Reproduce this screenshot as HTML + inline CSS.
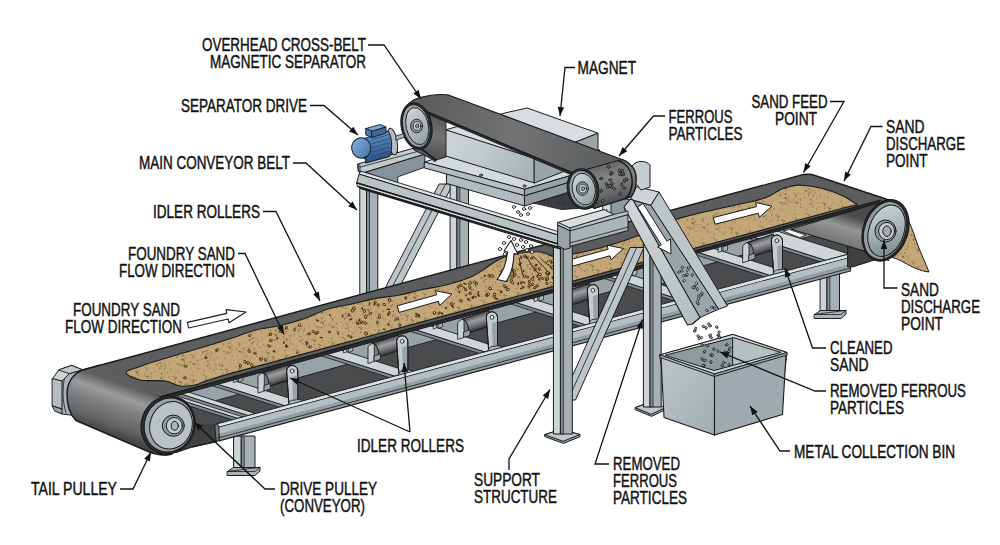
<!DOCTYPE html>
<html><head><meta charset="utf-8"><title>Overhead Cross-Belt Magnetic Separator</title>
<style>
html,body{margin:0;padding:0;background:#fff;}
svg{display:block}
text{font-family:"Liberation Sans",sans-serif;font-size:18.3px;fill:#111;stroke:#111;stroke-width:.45px}
</style></head><body>
<svg width="1000" height="545" viewBox="0 0 1000 545">
<rect width="1000" height="545" fill="#fff"/>
<defs><clipPath id="cUnder"><polygon points="160.0,397.0 880.0,200.5 880.0,300.0 860.0,300.0 160.0,470.0"/></clipPath><linearGradient id="gRoll" gradientUnits="userSpaceOnUse" x1="0" y1="-7.5" x2="0" y2="7.5"><stop offset="0" stop-color="#4a4b4d"/><stop offset="0.35" stop-color="#9d9fa1"/><stop offset="0.7" stop-color="#6a6c6f"/><stop offset="1" stop-color="#333436"/></linearGradient><linearGradient id="gStr" gradientUnits="userSpaceOnUse" x1="0" y1="0" x2="0" y2="1"><stop offset="0" stop-color="#c9d1d3"/><stop offset="0.55" stop-color="#aeb8bb"/><stop offset="1" stop-color="#8d999d"/></linearGradient><linearGradient id="gTail" gradientUnits="userSpaceOnUse" x1="122" y1="384" x2="105" y2="432"><stop offset="0" stop-color="#5e5f61"/><stop offset="0.24" stop-color="#999b9d"/><stop offset="0.5" stop-color="#7c7d7f"/><stop offset="0.8" stop-color="#646567"/><stop offset="1" stop-color="#454648"/></linearGradient><pattern id="pSpeck" width="48" height="48" patternUnits="userSpaceOnUse" patternTransform="rotate(-15)"><rect width="48" height="48" fill="#c3a778"/><circle cx="11.4" cy="26.1" r="0.50" fill="#4a3418"/><circle cx="30.0" cy="3.1" r="0.35" fill="#4a3418"/><circle cx="12.4" cy="11.2" r="0.55" fill="#4a3418"/><circle cx="19.1" cy="41.3" r="0.40" fill="#7a5a30"/><circle cx="41.7" cy="25.1" r="0.35" fill="#5b3f1f"/><circle cx="7.7" cy="46.0" r="0.35" fill="#8a6a3c"/><circle cx="37.4" cy="39.5" r="0.50" fill="#4a3418"/><circle cx="28.5" cy="44.2" r="0.55" fill="#4a3418"/><circle cx="19.0" cy="38.4" r="0.55" fill="#7a5a30"/><circle cx="42.2" cy="4.7" r="0.40" fill="#4a3418"/><circle cx="10.4" cy="46.3" r="0.55" fill="#8a6a3c"/><circle cx="20.2" cy="40.0" r="0.65" fill="#8a6a3c"/><circle cx="25.6" cy="19.6" r="0.40" fill="#8a6a3c"/><circle cx="32.7" cy="44.6" r="0.50" fill="#7a5a30"/><circle cx="33.5" cy="15.7" r="0.65" fill="#5b3f1f"/><circle cx="34.3" cy="10.1" r="0.65" fill="#8a6a3c"/><circle cx="13.7" cy="3.0" r="0.55" fill="#5b3f1f"/><circle cx="16.5" cy="3.2" r="0.40" fill="#5b3f1f"/><circle cx="14.1" cy="36.9" r="0.35" fill="#5b3f1f"/><circle cx="29.0" cy="36.6" r="0.55" fill="#8a6a3c"/><circle cx="26.4" cy="44.3" r="0.50" fill="#7a5a30"/><circle cx="47.9" cy="14.9" r="0.35" fill="#5b3f1f"/><circle cx="28.8" cy="1.5" r="0.40" fill="#4a3418"/><circle cx="14.0" cy="12.6" r="0.35" fill="#8a6a3c"/><circle cx="15.1" cy="46.0" r="0.55" fill="#4a3418"/><circle cx="22.1" cy="25.0" r="0.65" fill="#5b3f1f"/><circle cx="29.8" cy="45.1" r="0.65" fill="#8a6a3c"/><circle cx="20.7" cy="34.6" r="0.40" fill="#8a6a3c"/><circle cx="21.0" cy="12.4" r="0.50" fill="#8a6a3c"/><circle cx="0.5" cy="19.9" r="0.65" fill="#8a6a3c"/><circle cx="1.0" cy="29.6" r="0.40" fill="#5b3f1f"/><circle cx="30.4" cy="16.0" r="0.50" fill="#8a6a3c"/><circle cx="29.2" cy="13.4" r="0.55" fill="#5b3f1f"/><circle cx="28.3" cy="45.8" r="0.35" fill="#8a6a3c"/><circle cx="12.1" cy="21.9" r="0.65" fill="#8a6a3c"/><circle cx="8.5" cy="8.9" r="0.50" fill="#8a6a3c"/><circle cx="14.4" cy="18.1" r="0.35" fill="#7a5a30"/><circle cx="14.9" cy="10.7" r="0.50" fill="#7a5a30"/><circle cx="15.7" cy="32.5" r="0.35" fill="#5b3f1f"/><circle cx="28.8" cy="45.6" r="0.40" fill="#4a3418"/><circle cx="38.9" cy="46.1" r="0.35" fill="#8a6a3c"/><circle cx="35.6" cy="10.5" r="0.65" fill="#4a3418"/><circle cx="13.0" cy="37.8" r="0.35" fill="#7a5a30"/><circle cx="15.1" cy="40.1" r="0.65" fill="#7a5a30"/><circle cx="41.5" cy="16.3" r="0.35" fill="#8a6a3c"/><circle cx="28.3" cy="20.2" r="0.65" fill="#8a6a3c"/><circle cx="22.3" cy="30.4" r="0.50" fill="#4a3418"/><circle cx="27.3" cy="1.7" r="0.55" fill="#7a5a30"/><circle cx="9.6" cy="22.9" r="0.65" fill="#4a3418"/><circle cx="26.8" cy="47.3" r="0.40" fill="#5b3f1f"/><circle cx="35.8" cy="40.2" r="0.65" fill="#8a6a3c"/><circle cx="26.1" cy="42.7" r="0.35" fill="#8a6a3c"/><circle cx="5.8" cy="11.7" r="0.35" fill="#7a5a30"/><circle cx="43.0" cy="43.2" r="0.65" fill="#5b3f1f"/><circle cx="0.6" cy="35.8" r="0.40" fill="#8a6a3c"/><circle cx="11.5" cy="1.0" r="0.65" fill="#4a3418"/><circle cx="2.6" cy="43.8" r="0.35" fill="#8a6a3c"/><circle cx="6.0" cy="46.7" r="0.65" fill="#4a3418"/><circle cx="39.0" cy="2.9" r="0.40" fill="#7a5a30"/><circle cx="5.9" cy="42.6" r="0.35" fill="#7a5a30"/><circle cx="11.5" cy="13.1" r="0.40" fill="#5b3f1f"/><circle cx="23.4" cy="27.4" r="0.55" fill="#5b3f1f"/><circle cx="36.3" cy="11.9" r="0.65" fill="#4a3418"/><circle cx="2.4" cy="15.5" r="0.35" fill="#5b3f1f"/><circle cx="37.2" cy="2.2" r="0.35" fill="#5b3f1f"/><circle cx="23.2" cy="1.6" r="0.35" fill="#4a3418"/><circle cx="15.2" cy="15.1" r="0.50" fill="#4a3418"/><circle cx="31.1" cy="28.2" r="0.50" fill="#8a6a3c"/><circle cx="9.2" cy="15.8" r="0.35" fill="#7a5a30"/><circle cx="26.7" cy="34.4" r="0.55" fill="#5b3f1f"/><circle cx="27.2" cy="2.1" r="0.55" fill="#4a3418"/><circle cx="30.6" cy="2.1" r="0.55" fill="#5b3f1f"/><circle cx="17.9" cy="23.8" r="0.50" fill="#4a3418"/><circle cx="45.6" cy="20.1" r="0.35" fill="#7a5a30"/><circle cx="10.5" cy="13.0" r="0.65" fill="#5b3f1f"/><circle cx="38.6" cy="10.8" r="0.40" fill="#5b3f1f"/><circle cx="45.0" cy="18.0" r="0.65" fill="#8a6a3c"/><circle cx="5.8" cy="33.1" r="0.65" fill="#4a3418"/><circle cx="32.0" cy="35.2" r="0.65" fill="#5b3f1f"/><circle cx="39.0" cy="34.4" r="0.55" fill="#7a5a30"/><circle cx="11.3" cy="18.7" r="0.65" fill="#5b3f1f"/><circle cx="27.1" cy="31.6" r="0.55" fill="#7a5a30"/><circle cx="39.3" cy="16.4" r="0.35" fill="#5b3f1f"/><circle cx="40.5" cy="32.3" r="0.50" fill="#8a6a3c"/><circle cx="38.3" cy="1.7" r="0.65" fill="#7a5a30"/><circle cx="5.1" cy="36.0" r="0.65" fill="#5b3f1f"/><circle cx="26.4" cy="41.7" r="0.40" fill="#5b3f1f"/><circle cx="11.6" cy="8.6" r="0.40" fill="#4a3418"/><circle cx="29.6" cy="36.2" r="0.55" fill="#8a6a3c"/><circle cx="17.6" cy="19.0" r="0.50" fill="#4a3418"/><circle cx="46.4" cy="18.0" r="0.40" fill="#4a3418"/><circle cx="40.5" cy="46.4" r="0.55" fill="#4a3418"/><circle cx="7.5" cy="19.3" r="0.40" fill="#7a5a30"/><circle cx="4.6" cy="35.9" r="0.65" fill="#4a3418"/><circle cx="28.2" cy="41.2" r="0.40" fill="#8a6a3c"/><circle cx="36.1" cy="7.0" r="0.65" fill="#8a6a3c"/><circle cx="44.9" cy="40.9" r="0.65" fill="#8a6a3c"/><circle cx="32.2" cy="41.1" r="0.65" fill="#8a6a3c"/><circle cx="42.7" cy="14.7" r="0.50" fill="#4a3418"/><circle cx="38.6" cy="9.6" r="0.65" fill="#8a6a3c"/><circle cx="11.5" cy="23.2" r="0.40" fill="#4a3418"/><circle cx="47.6" cy="23.0" r="0.65" fill="#7a5a30"/><circle cx="22.5" cy="40.1" r="0.65" fill="#5b3f1f"/><circle cx="23.1" cy="34.6" r="0.55" fill="#5b3f1f"/><circle cx="22.4" cy="11.0" r="0.40" fill="#5b3f1f"/><circle cx="46.0" cy="41.0" r="0.40" fill="#7a5a30"/><circle cx="37.2" cy="6.6" r="0.65" fill="#5b3f1f"/><circle cx="43.2" cy="12.2" r="0.35" fill="#8a6a3c"/><circle cx="8.8" cy="4.4" r="0.35" fill="#5b3f1f"/><circle cx="4.4" cy="40.0" r="0.50" fill="#5b3f1f"/><circle cx="17.1" cy="27.9" r="0.50" fill="#5b3f1f"/><circle cx="1.4" cy="15.9" r="0.55" fill="#4a3418"/><circle cx="3.7" cy="30.9" r="0.55" fill="#4a3418"/><circle cx="6.0" cy="15.3" r="0.50" fill="#5b3f1f"/><circle cx="31.9" cy="5.4" r="0.65" fill="#8a6a3c"/><circle cx="4.7" cy="45.2" r="0.50" fill="#8a6a3c"/><circle cx="36.4" cy="14.2" r="0.50" fill="#5b3f1f"/><circle cx="36.2" cy="46.1" r="0.65" fill="#5b3f1f"/><circle cx="32.0" cy="24.4" r="0.35" fill="#8a6a3c"/><circle cx="32.6" cy="27.2" r="0.40" fill="#7a5a30"/><circle cx="8.6" cy="42.7" r="0.55" fill="#5b3f1f"/><circle cx="5.2" cy="26.9" r="0.50" fill="#4a3418"/><circle cx="26.6" cy="31.1" r="0.55" fill="#4a3418"/><circle cx="15.0" cy="8.5" r="0.35" fill="#5b3f1f"/><circle cx="34.4" cy="36.2" r="0.65" fill="#4a3418"/><circle cx="17.2" cy="12.8" r="0.55" fill="#5b3f1f"/><circle cx="41.9" cy="2.0" r="0.65" fill="#8a6a3c"/><circle cx="11.9" cy="36.9" r="0.50" fill="#8a6a3c"/><circle cx="45.4" cy="21.5" r="0.35" fill="#8a6a3c"/><circle cx="23.9" cy="47.8" r="0.40" fill="#8a6a3c"/><circle cx="28.3" cy="32.7" r="0.65" fill="#5b3f1f"/><circle cx="8.9" cy="9.1" r="0.55" fill="#4a3418"/><circle cx="39.2" cy="35.9" r="0.65" fill="#7a5a30"/><circle cx="41.3" cy="38.3" r="0.65" fill="#7a5a30"/><circle cx="27.3" cy="9.7" r="0.50" fill="#8a6a3c"/><circle cx="37.5" cy="1.4" r="0.55" fill="#4a3418"/><circle cx="45.6" cy="18.4" r="0.65" fill="#8a6a3c"/><circle cx="30.4" cy="46.9" r="0.50" fill="#4a3418"/><circle cx="1.4" cy="9.1" r="0.35" fill="#5b3f1f"/><circle cx="37.0" cy="31.8" r="0.55" fill="#7a5a30"/><circle cx="25.1" cy="22.1" r="0.40" fill="#7a5a30"/><circle cx="1.8" cy="24.0" r="0.55" fill="#5b3f1f"/><circle cx="27.2" cy="46.0" r="0.40" fill="#7a5a30"/><circle cx="22.4" cy="4.3" r="0.35" fill="#5b3f1f"/><circle cx="17.3" cy="11.2" r="0.35" fill="#4a3418"/><circle cx="25.9" cy="44.6" r="0.50" fill="#8a6a3c"/><circle cx="41.8" cy="33.3" r="0.40" fill="#5b3f1f"/><circle cx="41.2" cy="28.9" r="0.35" fill="#5b3f1f"/><circle cx="35.5" cy="16.5" r="0.40" fill="#5b3f1f"/><circle cx="41.4" cy="21.0" r="0.40" fill="#4a3418"/><circle cx="15.2" cy="37.8" r="0.55" fill="#5b3f1f"/><circle cx="40.6" cy="33.9" r="0.55" fill="#4a3418"/><circle cx="22.7" cy="3.3" r="0.55" fill="#7a5a30"/><circle cx="31.2" cy="14.6" r="0.55" fill="#4a3418"/><circle cx="36.3" cy="19.3" r="0.40" fill="#4a3418"/><circle cx="43.2" cy="34.5" r="0.50" fill="#8a6a3c"/><circle cx="21.5" cy="17.4" r="0.55" fill="#7a5a30"/><circle cx="46.5" cy="38.6" r="0.50" fill="#8a6a3c"/><circle cx="6.9" cy="22.1" r="0.40" fill="#7a5a30"/><circle cx="10.0" cy="8.2" r="0.55" fill="#7a5a30"/><circle cx="30.6" cy="6.7" r="0.65" fill="#7a5a30"/><circle cx="21.3" cy="8.9" r="0.35" fill="#4a3418"/><circle cx="21.5" cy="19.6" r="0.35" fill="#7a5a30"/><circle cx="19.4" cy="19.0" r="0.35" fill="#7a5a30"/><circle cx="11.6" cy="18.7" r="0.40" fill="#7a5a30"/><circle cx="16.0" cy="5.6" r="0.35" fill="#5b3f1f"/><circle cx="38.8" cy="14.0" r="0.55" fill="#8a6a3c"/><circle cx="23.5" cy="26.9" r="0.35" fill="#8a6a3c"/><circle cx="30.2" cy="16.5" r="0.35" fill="#5b3f1f"/><circle cx="32.8" cy="46.5" r="0.65" fill="#5b3f1f"/><circle cx="5.0" cy="32.7" r="0.35" fill="#7a5a30"/><circle cx="24.1" cy="23.1" r="0.40" fill="#8a6a3c"/><circle cx="9.6" cy="46.7" r="0.55" fill="#8a6a3c"/><circle cx="38.6" cy="44.0" r="0.35" fill="#4a3418"/><circle cx="14.6" cy="29.1" r="0.55" fill="#5b3f1f"/><circle cx="45.5" cy="8.8" r="0.55" fill="#5b3f1f"/><circle cx="24.4" cy="26.3" r="0.65" fill="#4a3418"/><circle cx="8.4" cy="35.5" r="0.55" fill="#8a6a3c"/><circle cx="44.3" cy="17.4" r="0.55" fill="#4a3418"/><circle cx="11.0" cy="37.4" r="0.55" fill="#8a6a3c"/><circle cx="12.9" cy="8.1" r="0.65" fill="#4a3418"/><circle cx="45.6" cy="2.1" r="0.40" fill="#5b3f1f"/><circle cx="39.5" cy="4.4" r="0.35" fill="#8a6a3c"/><circle cx="11.4" cy="40.5" r="0.35" fill="#5b3f1f"/><circle cx="21.6" cy="43.1" r="0.50" fill="#8a6a3c"/><circle cx="0.1" cy="9.4" r="0.35" fill="#8a6a3c"/><circle cx="27.3" cy="5.3" r="0.35" fill="#7a5a30"/><circle cx="11.6" cy="2.3" r="0.40" fill="#7a5a30"/><circle cx="28.1" cy="0.6" r="0.40" fill="#8a6a3c"/><circle cx="46.4" cy="10.6" r="0.65" fill="#4a3418"/><circle cx="24.2" cy="43.5" r="0.50" fill="#7a5a30"/><circle cx="22.4" cy="29.9" r="0.35" fill="#5b3f1f"/><circle cx="28.7" cy="41.2" r="0.35" fill="#7a5a30"/><circle cx="45.3" cy="12.2" r="0.35" fill="#4a3418"/><circle cx="19.2" cy="39.6" r="0.65" fill="#5b3f1f"/><circle cx="30.8" cy="36.5" r="0.50" fill="#4a3418"/><circle cx="28.9" cy="21.4" r="0.35" fill="#8a6a3c"/><circle cx="40.1" cy="28.5" r="0.55" fill="#7a5a30"/><circle cx="5.6" cy="0.4" r="0.50" fill="#5b3f1f"/><circle cx="16.4" cy="9.2" r="0.35" fill="#8a6a3c"/></pattern><linearGradient id="gHead" gradientUnits="userSpaceOnUse" x1="840" y1="212" x2="826" y2="256"><stop offset="0" stop-color="#4a4b4d"/><stop offset="0.28" stop-color="#939597"/><stop offset="0.62" stop-color="#78797b"/><stop offset="1" stop-color="#4c4d4f"/></linearGradient><linearGradient id="gCapH" gradientUnits="userSpaceOnUse" x1="870" y1="210" x2="900" y2="252"><stop offset="0" stop-color="#c9d1d3"/><stop offset="0.5" stop-color="#aab4b7"/><stop offset="1" stop-color="#7e8a8e"/></linearGradient><linearGradient id="gChN" gradientUnits="userSpaceOnUse" x1="624" y1="207" x2="700" y2="317"><stop offset="0" stop-color="#cfd6d8"/><stop offset="1" stop-color="#b5bec1"/></linearGradient><linearGradient id="gBinL" gradientUnits="userSpaceOnUse" x1="660" y1="380" x2="715" y2="420"><stop offset="0" stop-color="#b9c2c5"/><stop offset="1" stop-color="#a5afb3"/></linearGradient><linearGradient id="gMagF" gradientUnits="userSpaceOnUse" x1="446" y1="131" x2="520" y2="185"><stop offset="0" stop-color="#cfd6d8"/><stop offset="0.45" stop-color="#c2cacd"/><stop offset="1" stop-color="#a9b3b6"/></linearGradient><linearGradient id="gXbelt" gradientUnits="userSpaceOnUse" x1="430" y1="100" x2="600" y2="166"><stop offset="0" stop-color="#5c5d5f"/><stop offset="0.5" stop-color="#727375"/><stop offset="1" stop-color="#5e5f61"/></linearGradient><linearGradient id="gXrear" gradientUnits="userSpaceOnUse" x1="432" y1="108" x2="424" y2="160"><stop offset="0" stop-color="#4a4b4d"/><stop offset="0.5" stop-color="#727375"/><stop offset="1" stop-color="#4c4d4f"/></linearGradient><linearGradient id="gXfront" gradientUnits="userSpaceOnUse" x1="602" y1="160" x2="614" y2="207"><stop offset="0" stop-color="#5c5d5f"/><stop offset="0.4" stop-color="#858688"/><stop offset="0.75" stop-color="#636466"/><stop offset="1" stop-color="#3a3b3d"/></linearGradient><linearGradient id="gCapR" gradientUnits="userSpaceOnUse" x1="404" y1="108" x2="428" y2="146"><stop offset="0" stop-color="#d3dadc"/><stop offset="1" stop-color="#8d999d"/></linearGradient><linearGradient id="gCapF" gradientUnits="userSpaceOnUse" x1="570" y1="174" x2="594" y2="206"><stop offset="0" stop-color="#d3dadc"/><stop offset="1" stop-color="#8d999d"/></linearGradient><linearGradient id="gMot" gradientUnits="userSpaceOnUse" x1="375" y1="130" x2="380" y2="158"><stop offset="0" stop-color="#6f9ccc"/><stop offset="0.45" stop-color="#4a79b0"/><stop offset="1" stop-color="#2f5688"/></linearGradient><linearGradient id="gFan" gradientUnits="userSpaceOnUse" x1="352" y1="140" x2="370" y2="158"><stop offset="0" stop-color="#7fb0e0"/><stop offset="1" stop-color="#4473aa"/></linearGradient></defs>
<g stroke-linejoin="round" stroke-linecap="round">
<polygon points="439.5,184.0 453.0,184.0 395.0,296.0 381.5,296.0" fill="#bcc5c8" stroke="#1b1b1b" stroke-width="1.0" />
<polyline points="445.6,184.0 387.6,296.0" fill="none" stroke="#1b1b1b" stroke-width="0.8" />
<polygon points="450.5,160.0 457.3,160.0 457.3,300.0 450.5,300.0" fill="#cdd4d6" stroke="#1b1b1b" stroke-width="1.0" />
<polygon points="457.3,160.0 468.5,160.0 468.5,300.0 457.3,300.0" fill="#a7b1b5" stroke="#1b1b1b" stroke-width="1.0" />
<polygon points="457.3,160.0 459.9,160.0 459.9,300.0 457.3,300.0" fill="#7f8b8f" stroke="#1b1b1b" stroke-width="0.7" />
<polygon points="360.2,186.0 366.9,186.0 366.9,312.0 360.2,312.0" fill="#cdd4d6" stroke="#1b1b1b" stroke-width="1.0" />
<polygon points="366.9,186.0 377.8,186.0 377.8,312.0 366.9,312.0" fill="#a7b1b5" stroke="#1b1b1b" stroke-width="1.0" />
<polygon points="366.9,186.0 369.5,186.0 369.5,312.0 366.9,312.0" fill="#7f8b8f" stroke="#1b1b1b" stroke-width="0.7" />
<path d="M898,205 C907,214 912,228 917,243 C921,254 926,264 929,272 C920,271 912,267 905,263 C898,259 893,257 884,256 Z" fill="url(#pSpeck)" stroke="#1b1b1b" stroke-width="1.0" />
<g clip-path="url(#cUnder)">
<polygon points="170.0,392.0 870.0,200.0 870.0,262.0 170.0,452.0" fill="#98a3a7" stroke="none" stroke-width="1.1" />
<polygon points="170.0,413.3 866.0,220.8 866.0,251.4 170.0,438.5" fill="#4a4b4d" stroke="#1b1b1b" stroke-width="0.9" />
<polygon points="165.0,425.0 224.0,424.0 217.0,442.0 192.0,447.0 165.0,456.0" fill="#3f4042" stroke="none" stroke-width="1.1" />
<polygon points="238.0,418.2 163.0,394.2 163.0,397.6 238.0,421.6" fill="#7f8b8f" stroke="#1b1b1b" stroke-width="0.8" />
<polygon points="238.0,418.2 245.0,416.4 170.0,392.4 163.0,394.2" fill="#cfd6d8" stroke="#1b1b1b" stroke-width="0.9" />
<polygon points="248.5,415.4 173.5,391.4 173.5,394.8 248.5,418.8" fill="#7f8b8f" stroke="#1b1b1b" stroke-width="0.8" />
<polygon points="248.5,415.4 255.5,413.5 180.5,389.5 173.5,391.4" fill="#cfd6d8" stroke="#1b1b1b" stroke-width="0.9" />
<polygon points="285.0,405.6 210.0,381.6 210.0,385.0 285.0,409.0" fill="#7f8b8f" stroke="#1b1b1b" stroke-width="0.8" />
<polygon points="285.0,405.6 300.0,401.6 225.0,377.6 210.0,381.6" fill="#cfd6d8" stroke="#1b1b1b" stroke-width="0.9" />
<polygon points="395.0,376.0 320.0,352.0 320.0,355.4 395.0,379.4" fill="#7f8b8f" stroke="#1b1b1b" stroke-width="0.8" />
<polygon points="395.0,376.0 410.0,372.0 335.0,348.0 320.0,352.0" fill="#cfd6d8" stroke="#1b1b1b" stroke-width="0.9" />
<polygon points="485.0,351.8 410.0,327.8 410.0,331.2 485.0,355.2" fill="#7f8b8f" stroke="#1b1b1b" stroke-width="0.8" />
<polygon points="485.0,351.8 500.0,347.8 425.0,323.8 410.0,327.8" fill="#cfd6d8" stroke="#1b1b1b" stroke-width="0.9" />
<polygon points="586.0,324.7 511.0,300.7 511.0,304.1 586.0,328.1" fill="#7f8b8f" stroke="#1b1b1b" stroke-width="0.8" />
<polygon points="586.0,324.7 601.0,320.7 526.0,296.7 511.0,300.7" fill="#cfd6d8" stroke="#1b1b1b" stroke-width="0.9" />
<polygon points="680.0,299.4 605.0,275.4 605.0,278.8 680.0,302.8" fill="#7f8b8f" stroke="#1b1b1b" stroke-width="0.8" />
<polygon points="680.0,299.4 695.0,295.4 620.0,271.4 605.0,275.4" fill="#cfd6d8" stroke="#1b1b1b" stroke-width="0.9" />
<polygon points="770.0,275.2 695.0,251.2 695.0,254.6 770.0,278.6" fill="#7f8b8f" stroke="#1b1b1b" stroke-width="0.8" />
<polygon points="770.0,275.2 785.0,271.2 710.0,247.2 695.0,251.2" fill="#cfd6d8" stroke="#1b1b1b" stroke-width="0.9" />
<polygon points="826.0,260.2 751.0,236.2 751.0,239.6 826.0,263.6" fill="#7f8b8f" stroke="#1b1b1b" stroke-width="0.8" />
<polygon points="826.0,260.2 849.0,254.0 774.0,230.0 751.0,236.2" fill="#cfd6d8" stroke="#1b1b1b" stroke-width="0.9" />
</g>
<polygon points="233.8,376.5 236.8,375.5 236.8,381.5 233.8,382.5" fill="#c5cdd0" stroke="#1b1b1b" stroke-width="0.7" />
<polygon points="238.8,377.0 242.8,375.5 242.8,380.5 238.8,382.0" fill="#aab3b6" stroke="#1b1b1b" stroke-width="0.7" />
<g transform="translate(264.8,380.0) rotate(-18.1)"><rect x="0" y="-7.5" width="27.4" height="15" fill="url(#gRoll)" stroke="#1b1b1b" stroke-width="1"/><ellipse cx="0" cy="0" rx="3.4" ry="7.5" fill="#77797c" stroke="#1b1b1b" stroke-width="1"/></g>
<polygon points="258.3,376.0 261.8,373.0 264.3,374.0 264.3,391.0 258.3,393.0" fill="#c9d0d3" stroke="#1b1b1b" stroke-width="0.8" />
<polygon points="264.3,385.5 270.3,383.5 270.3,389.0 264.3,391.0" fill="#9aa5a9" stroke="#1b1b1b" stroke-width="0.8" />
<path d="M289.0,404.5 L286.6,371.0 A5.6,5.6 0 0 1 297.8,371.0 L297.8,403.0 Z" fill="#c3cbce" stroke="#1b1b1b" stroke-width="1.0" />
<path d="M293.0,403.5 L292.2,377.0 L297.8,375.0 L297.8,403.0 Z" fill="#98a3a7" stroke="none" stroke-width="1.1" />
<path d="M289.0,404.5 L286.6,371.0 A5.6,5.6 0 0 1 297.8,371.0 L297.8,403.0 Z" fill="none" stroke="#1b1b1b" stroke-width="1.0" />
<ellipse cx="292.2" cy="371.0" rx="1.8" ry="2.0" transform="rotate(0 292.2 371.0)" fill="#e8ecee" stroke="#1b1b1b" stroke-width="0.8"/>
<polygon points="287.3,405.5 290.8,400.5 298.8,399.5 304.3,401.0" fill="#b4bdc0" stroke="#1b1b1b" stroke-width="0.8" />
<polygon points="343.8,346.9 346.8,345.9 346.8,351.9 343.8,352.9" fill="#c5cdd0" stroke="#1b1b1b" stroke-width="0.7" />
<polygon points="348.8,347.4 352.8,345.9 352.8,350.9 348.8,352.4" fill="#aab3b6" stroke="#1b1b1b" stroke-width="0.7" />
<g transform="translate(374.8,350.4) rotate(-18.1)"><rect x="0" y="-7.5" width="27.4" height="15" fill="url(#gRoll)" stroke="#1b1b1b" stroke-width="1"/><ellipse cx="0" cy="0" rx="3.4" ry="7.5" fill="#77797c" stroke="#1b1b1b" stroke-width="1"/></g>
<polygon points="368.3,346.4 371.8,343.4 374.3,344.4 374.3,361.4 368.3,363.4" fill="#c9d0d3" stroke="#1b1b1b" stroke-width="0.8" />
<polygon points="374.3,355.9 380.3,353.9 380.3,359.4 374.3,361.4" fill="#9aa5a9" stroke="#1b1b1b" stroke-width="0.8" />
<path d="M399.0,374.9 L396.6,341.4 A5.6,5.6 0 0 1 407.8,341.4 L407.8,373.4 Z" fill="#c3cbce" stroke="#1b1b1b" stroke-width="1.0" />
<path d="M403.0,373.9 L402.2,347.4 L407.8,345.4 L407.8,373.4 Z" fill="#98a3a7" stroke="none" stroke-width="1.1" />
<path d="M399.0,374.9 L396.6,341.4 A5.6,5.6 0 0 1 407.8,341.4 L407.8,373.4 Z" fill="none" stroke="#1b1b1b" stroke-width="1.0" />
<ellipse cx="402.2" cy="341.4" rx="1.8" ry="2.0" transform="rotate(0 402.2 341.4)" fill="#e8ecee" stroke="#1b1b1b" stroke-width="0.8"/>
<polygon points="397.3,375.9 400.8,370.9 408.8,369.9 414.3,371.4" fill="#b4bdc0" stroke="#1b1b1b" stroke-width="0.8" />
<polygon points="433.5,322.8 436.5,321.8 436.5,327.8 433.5,328.8" fill="#c5cdd0" stroke="#1b1b1b" stroke-width="0.7" />
<polygon points="438.5,323.3 442.5,321.8 442.5,326.8 438.5,328.3" fill="#aab3b6" stroke="#1b1b1b" stroke-width="0.7" />
<g transform="translate(464.5,326.3) rotate(-18.1)"><rect x="0" y="-7.5" width="27.4" height="15" fill="url(#gRoll)" stroke="#1b1b1b" stroke-width="1"/><ellipse cx="0" cy="0" rx="3.4" ry="7.5" fill="#77797c" stroke="#1b1b1b" stroke-width="1"/></g>
<polygon points="458.0,322.3 461.5,319.3 464.0,320.3 464.0,337.3 458.0,339.3" fill="#c9d0d3" stroke="#1b1b1b" stroke-width="0.8" />
<polygon points="464.0,331.8 470.0,329.8 470.0,335.3 464.0,337.3" fill="#9aa5a9" stroke="#1b1b1b" stroke-width="0.8" />
<path d="M488.7,350.8 L486.3,317.3 A5.6,5.6 0 0 1 497.5,317.3 L497.5,349.3 Z" fill="#c3cbce" stroke="#1b1b1b" stroke-width="1.0" />
<path d="M492.7,349.8 L491.9,323.3 L497.5,321.3 L497.5,349.3 Z" fill="#98a3a7" stroke="none" stroke-width="1.1" />
<path d="M488.7,350.8 L486.3,317.3 A5.6,5.6 0 0 1 497.5,317.3 L497.5,349.3 Z" fill="none" stroke="#1b1b1b" stroke-width="1.0" />
<ellipse cx="491.9" cy="317.3" rx="1.8" ry="2.0" transform="rotate(0 491.9 317.3)" fill="#e8ecee" stroke="#1b1b1b" stroke-width="0.8"/>
<polygon points="487.0,351.8 490.5,346.8 498.5,345.8 504.0,347.3" fill="#b4bdc0" stroke="#1b1b1b" stroke-width="0.8" />
<polygon points="534.5,295.7 537.5,294.7 537.5,300.7 534.5,301.7" fill="#c5cdd0" stroke="#1b1b1b" stroke-width="0.7" />
<polygon points="539.5,296.2 543.5,294.7 543.5,299.7 539.5,301.2" fill="#aab3b6" stroke="#1b1b1b" stroke-width="0.7" />
<g transform="translate(565.5,299.2) rotate(-18.1)"><rect x="0" y="-7.5" width="27.4" height="15" fill="url(#gRoll)" stroke="#1b1b1b" stroke-width="1"/><ellipse cx="0" cy="0" rx="3.4" ry="7.5" fill="#77797c" stroke="#1b1b1b" stroke-width="1"/></g>
<polygon points="559.0,295.2 562.5,292.2 565.0,293.2 565.0,310.2 559.0,312.2" fill="#c9d0d3" stroke="#1b1b1b" stroke-width="0.8" />
<polygon points="565.0,304.7 571.0,302.7 571.0,308.2 565.0,310.2" fill="#9aa5a9" stroke="#1b1b1b" stroke-width="0.8" />
<path d="M589.7,323.7 L587.3,290.2 A5.6,5.6 0 0 1 598.5,290.2 L598.5,322.2 Z" fill="#c3cbce" stroke="#1b1b1b" stroke-width="1.0" />
<path d="M593.7,322.7 L592.9,296.2 L598.5,294.2 L598.5,322.2 Z" fill="#98a3a7" stroke="none" stroke-width="1.1" />
<path d="M589.7,323.7 L587.3,290.2 A5.6,5.6 0 0 1 598.5,290.2 L598.5,322.2 Z" fill="none" stroke="#1b1b1b" stroke-width="1.0" />
<ellipse cx="592.9" cy="290.2" rx="1.8" ry="2.0" transform="rotate(0 592.9 290.2)" fill="#e8ecee" stroke="#1b1b1b" stroke-width="0.8"/>
<polygon points="588.0,324.7 591.5,319.7 599.5,318.7 605.0,320.2" fill="#b4bdc0" stroke="#1b1b1b" stroke-width="0.8" />
<polygon points="628.0,270.5 631.0,269.5 631.0,275.5 628.0,276.5" fill="#c5cdd0" stroke="#1b1b1b" stroke-width="0.7" />
<polygon points="633.0,271.0 637.0,269.5 637.0,274.5 633.0,276.0" fill="#aab3b6" stroke="#1b1b1b" stroke-width="0.7" />
<g transform="translate(659.0,274.0) rotate(-18.1)"><rect x="0" y="-7.5" width="27.4" height="15" fill="url(#gRoll)" stroke="#1b1b1b" stroke-width="1"/><ellipse cx="0" cy="0" rx="3.4" ry="7.5" fill="#77797c" stroke="#1b1b1b" stroke-width="1"/></g>
<polygon points="652.5,270.0 656.0,267.0 658.5,268.0 658.5,285.0 652.5,287.0" fill="#c9d0d3" stroke="#1b1b1b" stroke-width="0.8" />
<polygon points="658.5,279.5 664.5,277.5 664.5,283.0 658.5,285.0" fill="#9aa5a9" stroke="#1b1b1b" stroke-width="0.8" />
<path d="M683.2,298.5 L680.8,265.0 A5.6,5.6 0 0 1 692.0,265.0 L692.0,297.0 Z" fill="#c3cbce" stroke="#1b1b1b" stroke-width="1.0" />
<path d="M687.2,297.5 L686.4,271.0 L692.0,269.0 L692.0,297.0 Z" fill="#98a3a7" stroke="none" stroke-width="1.1" />
<path d="M683.2,298.5 L680.8,265.0 A5.6,5.6 0 0 1 692.0,265.0 L692.0,297.0 Z" fill="none" stroke="#1b1b1b" stroke-width="1.0" />
<ellipse cx="686.4" cy="265.0" rx="1.8" ry="2.0" transform="rotate(0 686.4 265.0)" fill="#e8ecee" stroke="#1b1b1b" stroke-width="0.8"/>
<polygon points="681.5,299.5 685.0,294.5 693.0,293.5 698.5,295.0" fill="#b4bdc0" stroke="#1b1b1b" stroke-width="0.8" />
<polygon points="718.5,246.2 721.5,245.2 721.5,251.2 718.5,252.2" fill="#c5cdd0" stroke="#1b1b1b" stroke-width="0.7" />
<polygon points="723.5,246.7 727.5,245.2 727.5,250.2 723.5,251.7" fill="#aab3b6" stroke="#1b1b1b" stroke-width="0.7" />
<g transform="translate(749.5,249.7) rotate(-18.1)"><rect x="0" y="-7.5" width="27.4" height="15" fill="url(#gRoll)" stroke="#1b1b1b" stroke-width="1"/><ellipse cx="0" cy="0" rx="3.4" ry="7.5" fill="#77797c" stroke="#1b1b1b" stroke-width="1"/></g>
<polygon points="743.0,245.7 746.5,242.7 749.0,243.7 749.0,260.7 743.0,262.7" fill="#c9d0d3" stroke="#1b1b1b" stroke-width="0.8" />
<polygon points="749.0,255.2 755.0,253.2 755.0,258.7 749.0,260.7" fill="#9aa5a9" stroke="#1b1b1b" stroke-width="0.8" />
<path d="M773.7,274.2 L771.3,240.7 A5.6,5.6 0 0 1 782.5,240.7 L782.5,272.7 Z" fill="#c3cbce" stroke="#1b1b1b" stroke-width="1.0" />
<path d="M777.7,273.2 L776.9,246.7 L782.5,244.7 L782.5,272.7 Z" fill="#98a3a7" stroke="none" stroke-width="1.1" />
<path d="M773.7,274.2 L771.3,240.7 A5.6,5.6 0 0 1 782.5,240.7 L782.5,272.7 Z" fill="none" stroke="#1b1b1b" stroke-width="1.0" />
<ellipse cx="776.9" cy="240.7" rx="1.8" ry="2.0" transform="rotate(0 776.9 240.7)" fill="#e8ecee" stroke="#1b1b1b" stroke-width="0.8"/>
<polygon points="772.0,275.2 775.5,270.2 783.5,269.2 789.0,270.7" fill="#b4bdc0" stroke="#1b1b1b" stroke-width="0.8" />
<polygon points="234.0,436.0 241.6,436.0 241.6,470.0 234.0,470.0" fill="#cdd4d6" stroke="#1b1b1b" stroke-width="1.0" />
<polygon points="241.6,436.0 255.0,436.0 255.0,470.0 241.6,470.0" fill="#a7b1b5" stroke="#1b1b1b" stroke-width="1.0" />
<polygon points="241.6,436.0 244.2,436.0 244.2,470.0 241.6,470.0" fill="#7f8b8f" stroke="#1b1b1b" stroke-width="0.7" />
<polygon points="227.5,471.5 233.5,467.5 260.0,467.5 260.0,471.0 255.0,475.5 227.5,475.5" fill="#aab3b7" stroke="#1b1b1b" stroke-width="1.0" />
<polygon points="227.5,471.5 255.0,471.5 260.0,467.5" fill="none" stroke="#1b1b1b" stroke-width="0.8" />
<polygon points="820.5,268.0 827.3,268.0 827.3,313.0 820.5,313.0" fill="#cdd4d6" stroke="#1b1b1b" stroke-width="1.0" />
<polygon points="827.3,268.0 839.5,268.0 839.5,313.0 827.3,313.0" fill="#a7b1b5" stroke="#1b1b1b" stroke-width="1.0" />
<polygon points="827.3,268.0 829.9,268.0 829.9,313.0 827.3,313.0" fill="#7f8b8f" stroke="#1b1b1b" stroke-width="0.7" />
<polygon points="814.5,314.5 820.5,310.5 846.0,310.5 846.0,314.0 841.0,318.5 814.5,318.5" fill="#aab3b7" stroke="#1b1b1b" stroke-width="1.0" />
<polygon points="814.5,314.5 841.0,314.5 846.0,310.5" fill="none" stroke="#1b1b1b" stroke-width="0.8" />
<polygon points="217.5,423.8 849.0,254.0 850.5,257.6 219.0,427.4" fill="#dde3e5" stroke="#1b1b1b" stroke-width="0.9" />
<polygon points="219.0,427.4 850.5,257.6 850.5,271.0 219.0,440.8" fill="#939ea2" stroke="#1b1b1b" stroke-width="1.2" />
<polygon points="219.0,427.4 850.5,257.6 850.5,264.0 219.0,433.8" fill="#b4bdc1" stroke="none" stroke-width="1.1" />
<polyline points="219.0,437.8 850.5,268.0" fill="none" stroke="#1b1b1b" stroke-width="0.8" />
<polygon points="215.0,424.4 217.5,423.8 219.0,427.4 219.0,440.8 216.5,441.4" fill="#6d787c" stroke="#1b1b1b" stroke-width="0.9" />
<path d="M82.5,370.0 L799.0,175.6 Q808.0,172.8 815.0,175.5 L898,203 L906,216 L880.0,200.5 L160.0,397.0 Z" fill="#5b5d5f" stroke="#1b1b1b" stroke-width="1.4" />
<polygon points="160.0,397.0 880.0,200.5 878.5,203.5 161.2,399.8" fill="#2a2b2d" stroke="#1b1b1b" stroke-width="1.0" />
<path d="M62,371 L78,369 L78,416 L62,414 Z" fill="#aab3b7" stroke="#1b1b1b" stroke-width="1.0" />
<path d="M66,372 C62,385 62,400 66,413" fill="none" stroke="#1b1b1b" stroke-width="0.8" />
<polygon points="52.5,378.6 59.0,369.8 71.6,365.4 82.6,369.8 69.5,373.5 62.0,381.0" fill="#cdd4d6" stroke="#1b1b1b" stroke-width="1.0" />
<polygon points="59.0,369.8 71.6,365.4 82.6,369.8 69.5,373.5" fill="#c2cacd" stroke="#1b1b1b" stroke-width="0.9" />
<polygon points="52.5,378.6 62.0,381.0 62.0,409.0 52.5,406.0" fill="#b3bcc0" stroke="#1b1b1b" stroke-width="1.0" />
<polygon points="52.5,406.0 62.0,409.0 62.0,414.0 55.0,411.2" fill="#98a3a7" stroke="#1b1b1b" stroke-width="1.0" />
<path d="M100,365.3 L82.5,370 C74,373 67,382 67,394 C67,406 70,415 76,420.5 L147,451 C155,455 166,456 172,454 L190,440 L160,397 Z" fill="url(#gTail)" stroke="none" stroke-width="1.1" />
<path d="M100,365.3 L82.5,370 C74,373 67,382 67,394 C67,406 70,415 76,420.5 L147,451 C155,455 166,456 172,454" fill="none" stroke="#1b1b1b" stroke-width="1.4" />
<polyline points="176.0,452.5 192.0,447.0 216.5,441.5" fill="none" stroke="#1b1b1b" stroke-width="1.3" />
<ellipse cx="168.0" cy="425.0" rx="26.7" ry="29.3" transform="rotate(19.5 168.0 425.0)" fill="#2c2d2f" stroke="#1b1b1b" stroke-width="1.2"/>
<ellipse cx="169.0" cy="425.0" rx="24.5" ry="27.3" transform="rotate(19.5 169.0 425.0)" fill="#9aa4a8" stroke="#1b1b1b" stroke-width="1.0"/>
<ellipse cx="171.0" cy="425.3" rx="21.0" ry="24.0" transform="rotate(19.5 171.0 425.3)" fill="#b9c2c5" stroke="#1b1b1b" stroke-width="1.0"/>
<ellipse cx="173.3" cy="425.7" rx="11.0" ry="10.6" transform="rotate(0 173.3 425.7)" fill="#8f9a9e" stroke="#1b1b1b" stroke-width="1.0"/>
<ellipse cx="174.3" cy="425.7" rx="8.0" ry="8.2" transform="rotate(0 174.3 425.7)" fill="#c3cbce" stroke="#1b1b1b" stroke-width="1.0"/>
<ellipse cx="174.8" cy="425.8" rx="3.6" ry="4.4" transform="rotate(0 174.8 425.8)" fill="#aab3b6" stroke="#1b1b1b" stroke-width="1.0"/>
<path d="M126.0,372.5 C126.0,370.2 134.3,368.6 140.0,366.5 C145.7,364.4 151.7,362.6 160.0,360.0 C168.3,357.4 180.8,353.8 190.0,351.0 C199.2,348.2 208.0,345.7 215.0,343.5 C222.0,341.3 225.2,340.2 232.0,338.0 C238.8,335.8 248.0,332.1 256.0,330.0 C264.0,327.9 272.0,327.4 280.0,325.5 C288.0,323.6 296.0,321.6 304.0,318.8 C312.0,316.1 320.0,311.5 328.0,309.0 C336.0,306.5 344.0,305.8 352.0,304.0 C360.0,302.2 368.0,299.9 376.0,298.4 C384.0,296.9 392.7,296.4 400.0,295.0 C407.3,293.6 412.0,291.8 420.0,290.0 C428.0,288.2 439.3,286.8 448.0,284.5 C456.7,282.2 465.7,279.1 472.0,276.4 C478.3,273.6 482.0,270.6 486.0,268.0 C490.0,265.4 492.7,262.9 496.0,261.0 C499.3,259.1 502.7,257.7 506.0,256.5 C509.3,255.3 511.3,254.6 516.0,253.8 C520.7,253.0 529.2,251.9 534.0,251.8 C538.8,251.7 541.7,252.2 545.0,253.0 C548.3,253.8 549.5,256.3 554.0,256.5 C558.5,256.7 564.3,255.4 572.0,254.0 C579.7,252.6 589.2,251.0 600.0,248.0 C610.8,245.0 624.7,240.7 637.0,236.0 C649.3,231.3 665.2,223.4 674.0,220.0 C682.8,216.6 684.0,217.1 690.0,215.5 C696.0,213.9 703.3,212.2 710.0,210.7 C716.7,209.2 724.2,207.6 730.0,206.3 C735.8,205.0 740.5,204.0 745.0,203.0 C749.5,202.0 753.0,201.5 757.0,200.4 C761.0,199.3 765.0,198.2 769.0,196.3 C773.0,194.5 777.3,191.0 781.0,189.3 C784.7,187.6 787.7,186.9 791.0,186.2 C794.3,185.5 795.9,184.8 801.0,185.2 C806.1,185.5 814.7,186.6 821.5,188.3 C828.3,190.0 836.2,193.0 841.6,195.3 C847.0,197.7 851.1,200.8 853.7,202.4 C856.3,204.0 857.6,204.3 857.0,205.0 C856.4,205.7 859.5,203.8 850.0,206.3 C840.5,208.8 825.0,213.0 800.0,219.8 C775.0,226.6 733.3,237.9 700.0,246.9 C666.7,255.9 633.3,264.9 600.0,273.9 C566.7,282.9 533.3,291.9 500.0,300.9 C466.7,309.9 433.3,318.9 400.0,327.9 C366.7,336.9 328.3,347.3 300.0,354.9 C271.7,362.5 245.8,369.2 230.0,373.6 C214.2,378.0 210.8,379.4 205.0,381.3 C199.2,383.2 199.2,384.2 195.0,385.0 C190.8,385.8 185.0,386.7 180.0,386.0 C175.0,385.3 171.7,382.0 165.0,381.0 C158.3,380.0 146.5,381.4 140.0,380.0 C133.5,378.6 126.0,374.8 126.0,372.5 Z" fill="url(#pSpeck)" stroke="#1b1b1b" stroke-width="1.1" />
<polygon points="848.0,246.0 868.0,252.5 889.0,260.5 882.0,257.5 853.0,266.8 848.0,266.8" fill="#3f4042" stroke="#1b1b1b" stroke-width="1.0" />
<polygon points="791.0,229.0 882.0,202.0 882.0,255.0 866.0,251.5" fill="url(#gHead)" stroke="#1b1b1b" stroke-width="1.0" />
<ellipse cx="885.5" cy="230.3" rx="22.3" ry="31.6" transform="rotate(19.5 885.5 230.3)" fill="#2c2d2f" stroke="#1b1b1b" stroke-width="1.2"/>
<ellipse cx="885.0" cy="230.5" rx="20.4" ry="29.8" transform="rotate(19.5 885.0 230.5)" fill="#939da1" stroke="#1b1b1b" stroke-width="1.0"/>
<ellipse cx="886.5" cy="230.8" rx="17.5" ry="26.6" transform="rotate(19.5 886.5 230.8)" fill="url(#gCapH)" stroke="#1b1b1b" stroke-width="1.0"/>
<ellipse cx="885.5" cy="231.0" rx="10.6" ry="11.0" transform="rotate(0 885.5 231.0)" fill="#8f9a9e" stroke="#1b1b1b" stroke-width="1.0"/>
<ellipse cx="886.6" cy="231.0" rx="8.0" ry="8.6" transform="rotate(0 886.6 231.0)" fill="#c3cbce" stroke="#1b1b1b" stroke-width="1.0"/>
<ellipse cx="887.0" cy="231.2" rx="4.2" ry="5.2" transform="rotate(0 887.0 231.2)" fill="#a3adb0" stroke="#1b1b1b" stroke-width="1.0"/>
<polygon points="783.5,231.0 789.5,229.6 806.0,235.2 800.0,237.4" fill="#fff" stroke="#1b1b1b" stroke-width="0.8" />
<ellipse cx="369.6" cy="303.6" rx="1.5" ry="0.8" transform="rotate(106.06782309766356 369.6 303.6)" fill="#4a3114" stroke="none" stroke-width="0"/>
<ellipse cx="486.6" cy="295.9" rx="1.3" ry="0.8" transform="rotate(172.2983529972206 486.6 295.9)" fill="#4a3114" stroke="none" stroke-width="0"/>
<ellipse cx="501.3" cy="291.9" rx="1.5" ry="1.1" transform="rotate(68.13618789750363 501.3 291.9)" fill="#4a3114" stroke="none" stroke-width="0"/>
<ellipse cx="286.4" cy="327.7" rx="1.2" ry="1.2" transform="rotate(65.66979221461516 286.4 327.7)" fill="#d2b47a" stroke="#3f2a10" stroke-width="0.9"/>
<ellipse cx="317.5" cy="320.6" rx="1.6" ry="0.9" transform="rotate(30.804956675657458 317.5 320.6)" fill="#4a3114" stroke="none" stroke-width="0"/>
<ellipse cx="556.0" cy="266.9" rx="1.8" ry="1.0" transform="rotate(41.228652953538784 556.0 266.9)" fill="#4a3114" stroke="none" stroke-width="0"/>
<ellipse cx="512.4" cy="282.8" rx="1.5" ry="1.1" transform="rotate(47.67842996964944 512.4 282.8)" fill="#d2b47a" stroke="#3f2a10" stroke-width="0.9"/>
<ellipse cx="520.7" cy="263.1" rx="1.5" ry="0.7" transform="rotate(8.480947576452223 520.7 263.1)" fill="#4a3114" stroke="none" stroke-width="0"/>
<ellipse cx="506.4" cy="287.1" rx="1.5" ry="0.8" transform="rotate(115.37312374436546 506.4 287.1)" fill="#4a3114" stroke="none" stroke-width="0"/>
<ellipse cx="512.2" cy="276.7" rx="1.5" ry="1.2" transform="rotate(53.72006246075392 512.2 276.7)" fill="#d2b47a" stroke="#3f2a10" stroke-width="0.9"/>
<ellipse cx="468.6" cy="299.7" rx="1.0" ry="1.0" transform="rotate(3.5058136294498143 468.6 299.7)" fill="#d2b47a" stroke="#3f2a10" stroke-width="0.9"/>
<ellipse cx="532.7" cy="284.3" rx="1.0" ry="1.3" transform="rotate(170.45090015363894 532.7 284.3)" fill="#d2b47a" stroke="#3f2a10" stroke-width="0.9"/>
<ellipse cx="469.8" cy="287.2" rx="1.2" ry="1.2" transform="rotate(76.16482923615965 469.8 287.2)" fill="#d2b47a" stroke="#3f2a10" stroke-width="0.9"/>
<ellipse cx="558.1" cy="261.6" rx="1.1" ry="1.0" transform="rotate(60.85540118654196 558.1 261.6)" fill="#d2b47a" stroke="#3f2a10" stroke-width="0.9"/>
<ellipse cx="506.0" cy="267.9" rx="1.2" ry="0.8" transform="rotate(168.3925633045208 506.0 267.9)" fill="#4a3114" stroke="none" stroke-width="0"/>
<ellipse cx="394.9" cy="320.1" rx="1.2" ry="0.7" transform="rotate(77.58921283314795 394.9 320.1)" fill="#4a3114" stroke="none" stroke-width="0"/>
<ellipse cx="338.1" cy="333.4" rx="2.0" ry="0.7" transform="rotate(72.47183077840837 338.1 333.4)" fill="#4a3114" stroke="none" stroke-width="0"/>
<ellipse cx="270.7" cy="340.6" rx="1.2" ry="1.0" transform="rotate(166.1878078696823 270.7 340.6)" fill="#d2b47a" stroke="#3f2a10" stroke-width="0.9"/>
<ellipse cx="531.7" cy="258.0" rx="1.1" ry="1.1" transform="rotate(10.554371994992206 531.7 258.0)" fill="#d2b47a" stroke="#3f2a10" stroke-width="0.9"/>
<ellipse cx="558.2" cy="272.8" rx="1.2" ry="1.3" transform="rotate(104.25245234692612 558.2 272.8)" fill="#d2b47a" stroke="#3f2a10" stroke-width="0.9"/>
<ellipse cx="265.6" cy="359.7" rx="1.4" ry="1.1" transform="rotate(75.46048476045705 265.6 359.7)" fill="#d2b47a" stroke="#3f2a10" stroke-width="0.9"/>
<ellipse cx="399.7" cy="324.8" rx="1.4" ry="1.0" transform="rotate(71.24145242242581 399.7 324.8)" fill="#d2b47a" stroke="#3f2a10" stroke-width="0.9"/>
<ellipse cx="464.5" cy="288.0" rx="2.0" ry="0.7" transform="rotate(38.36777620806727 464.5 288.0)" fill="#4a3114" stroke="none" stroke-width="0"/>
<ellipse cx="514.1" cy="270.9" rx="1.5" ry="1.2" transform="rotate(110.10199783067102 514.1 270.9)" fill="#d2b47a" stroke="#3f2a10" stroke-width="0.9"/>
<ellipse cx="489.6" cy="289.4" rx="1.1" ry="0.7" transform="rotate(19.266475987695173 489.6 289.4)" fill="#4a3114" stroke="none" stroke-width="0"/>
<ellipse cx="388.0" cy="314.8" rx="1.2" ry="1.0" transform="rotate(47.51710229347369 388.0 314.8)" fill="#4a3114" stroke="none" stroke-width="0"/>
<ellipse cx="500.7" cy="276.7" rx="1.0" ry="1.2" transform="rotate(114.68040791424833 500.7 276.7)" fill="#d2b47a" stroke="#3f2a10" stroke-width="0.9"/>
<ellipse cx="523.0" cy="287.1" rx="1.1" ry="1.0" transform="rotate(55.48650298742406 523.0 287.1)" fill="#d2b47a" stroke="#3f2a10" stroke-width="0.9"/>
<ellipse cx="521.1" cy="288.6" rx="1.2" ry="0.8" transform="rotate(18.502851900921414 521.1 288.6)" fill="#4a3114" stroke="none" stroke-width="0"/>
<ellipse cx="487.1" cy="295.0" rx="1.5" ry="1.2" transform="rotate(40.0380691582196 487.1 295.0)" fill="#d2b47a" stroke="#3f2a10" stroke-width="0.9"/>
<ellipse cx="489.4" cy="275.1" rx="1.2" ry="0.7" transform="rotate(34.76336189898756 489.4 275.1)" fill="#4a3114" stroke="none" stroke-width="0"/>
<ellipse cx="547.3" cy="272.7" rx="1.6" ry="1.1" transform="rotate(169.06268525844882 547.3 272.7)" fill="#d2b47a" stroke="#3f2a10" stroke-width="0.9"/>
<ellipse cx="277.2" cy="338.3" rx="1.3" ry="0.9" transform="rotate(92.05615074050606 277.2 338.3)" fill="#4a3114" stroke="none" stroke-width="0"/>
<ellipse cx="460.7" cy="285.3" rx="1.4" ry="1.0" transform="rotate(56.50481611050474 460.7 285.3)" fill="#d2b47a" stroke="#3f2a10" stroke-width="0.9"/>
<ellipse cx="501.5" cy="271.6" rx="1.2" ry="1.1" transform="rotate(53.217936454670465 501.5 271.6)" fill="#d2b47a" stroke="#3f2a10" stroke-width="0.9"/>
<ellipse cx="537.0" cy="286.0" rx="1.2" ry="1.1" transform="rotate(0.07306914551175492 537.0 286.0)" fill="#d2b47a" stroke="#3f2a10" stroke-width="0.9"/>
<ellipse cx="354.0" cy="308.5" rx="1.5" ry="1.2" transform="rotate(30.54445131564985 354.0 308.5)" fill="#d2b47a" stroke="#3f2a10" stroke-width="0.9"/>
<ellipse cx="418.7" cy="315.0" rx="1.7" ry="0.8" transform="rotate(35.843387890783795 418.7 315.0)" fill="#4a3114" stroke="none" stroke-width="0"/>
<ellipse cx="365.3" cy="323.1" rx="1.5" ry="1.2" transform="rotate(19.185713381437008 365.3 323.1)" fill="#d2b47a" stroke="#3f2a10" stroke-width="0.9"/>
<ellipse cx="374.4" cy="304.3" rx="1.5" ry="1.0" transform="rotate(120.16399186554357 374.4 304.3)" fill="#4a3114" stroke="none" stroke-width="0"/>
<ellipse cx="555.3" cy="282.8" rx="1.6" ry="1.0" transform="rotate(90.86006966839236 555.3 282.8)" fill="#4a3114" stroke="none" stroke-width="0"/>
<ellipse cx="494.8" cy="297.3" rx="1.5" ry="0.8" transform="rotate(44.50315275173872 494.8 297.3)" fill="#4a3114" stroke="none" stroke-width="0"/>
<ellipse cx="280.7" cy="331.4" rx="1.2" ry="1.1" transform="rotate(24.90733107290803 280.7 331.4)" fill="#d2b47a" stroke="#3f2a10" stroke-width="0.9"/>
<ellipse cx="504.8" cy="273.9" rx="1.2" ry="1.2" transform="rotate(153.62063110243884 504.8 273.9)" fill="#d2b47a" stroke="#3f2a10" stroke-width="0.9"/>
<ellipse cx="542.1" cy="278.4" rx="1.4" ry="1.0" transform="rotate(39.49589423185851 542.1 278.4)" fill="#d2b47a" stroke="#3f2a10" stroke-width="0.9"/>
<ellipse cx="342.8" cy="316.4" rx="1.4" ry="0.8" transform="rotate(84.13022686181583 342.8 316.4)" fill="#4a3114" stroke="none" stroke-width="0"/>
<ellipse cx="468.1" cy="298.8" rx="1.3" ry="0.7" transform="rotate(3.488991669001924 468.1 298.8)" fill="#4a3114" stroke="none" stroke-width="0"/>
<ellipse cx="475.8" cy="296.8" rx="1.2" ry="0.7" transform="rotate(27.428822241262267 475.8 296.8)" fill="#4a3114" stroke="none" stroke-width="0"/>
<ellipse cx="470.3" cy="292.4" rx="1.1" ry="1.0" transform="rotate(173.64973914613577 470.3 292.4)" fill="#4a3114" stroke="none" stroke-width="0"/>
<ellipse cx="216.6" cy="350.0" rx="2.0" ry="0.9" transform="rotate(128.7026469089043 216.6 350.0)" fill="#4a3114" stroke="none" stroke-width="0"/>
<ellipse cx="416.5" cy="313.7" rx="1.6" ry="0.7" transform="rotate(177.09198327264085 416.5 313.7)" fill="#4a3114" stroke="none" stroke-width="0"/>
<ellipse cx="476.3" cy="283.6" rx="1.3" ry="1.0" transform="rotate(152.92361285992394 476.3 283.6)" fill="#d2b47a" stroke="#3f2a10" stroke-width="0.9"/>
<ellipse cx="546.7" cy="279.5" rx="1.3" ry="1.1" transform="rotate(131.58471857492202 546.7 279.5)" fill="#d2b47a" stroke="#3f2a10" stroke-width="0.9"/>
<ellipse cx="494.8" cy="296.7" rx="1.3" ry="1.1" transform="rotate(68.21807474308753 494.8 296.7)" fill="#d2b47a" stroke="#3f2a10" stroke-width="0.9"/>
<ellipse cx="245.0" cy="361.7" rx="1.5" ry="1.2" transform="rotate(49.72834363611328 245.0 361.7)" fill="#d2b47a" stroke="#3f2a10" stroke-width="0.9"/>
<ellipse cx="249.1" cy="350.0" rx="1.2" ry="0.8" transform="rotate(87.15574569828756 249.1 350.0)" fill="#4a3114" stroke="none" stroke-width="0"/>
<ellipse cx="249.7" cy="335.6" rx="1.3" ry="1.0" transform="rotate(175.37308759849282 249.7 335.6)" fill="#d2b47a" stroke="#3f2a10" stroke-width="0.9"/>
<ellipse cx="329.3" cy="331.9" rx="1.1" ry="1.1" transform="rotate(54.69039213160098 329.3 331.9)" fill="#d2b47a" stroke="#3f2a10" stroke-width="0.9"/>
<ellipse cx="557.7" cy="274.8" rx="1.5" ry="1.0" transform="rotate(94.06305632343921 557.7 274.8)" fill="#d2b47a" stroke="#3f2a10" stroke-width="0.9"/>
<ellipse cx="348.4" cy="335.8" rx="1.3" ry="0.9" transform="rotate(109.73356420412345 348.4 335.8)" fill="#4a3114" stroke="none" stroke-width="0"/>
<ellipse cx="255.0" cy="353.4" rx="1.1" ry="0.9" transform="rotate(0.4816300685194319 255.0 353.4)" fill="#d2b47a" stroke="#3f2a10" stroke-width="0.9"/>
<ellipse cx="287.1" cy="346.5" rx="1.5" ry="1.0" transform="rotate(166.30398800685876 287.1 346.5)" fill="#4a3114" stroke="none" stroke-width="0"/>
<ellipse cx="478.3" cy="292.4" rx="1.4" ry="0.9" transform="rotate(116.57425021244653 478.3 292.4)" fill="#4a3114" stroke="none" stroke-width="0"/>
<ellipse cx="524.7" cy="256.1" rx="1.2" ry="1.2" transform="rotate(102.45726887743663 524.7 256.1)" fill="#d2b47a" stroke="#3f2a10" stroke-width="0.9"/>
<ellipse cx="286.1" cy="346.0" rx="1.9" ry="0.9" transform="rotate(88.88313948211517 286.1 346.0)" fill="#4a3114" stroke="none" stroke-width="0"/>
<ellipse cx="206.0" cy="357.7" rx="1.2" ry="0.9" transform="rotate(173.14399839471062 206.0 357.7)" fill="#d2b47a" stroke="#3f2a10" stroke-width="0.9"/>
<ellipse cx="496.8" cy="298.9" rx="1.7" ry="0.8" transform="rotate(7.241701166030912 496.8 298.9)" fill="#4a3114" stroke="none" stroke-width="0"/>
<ellipse cx="466.2" cy="295.3" rx="1.2" ry="0.9" transform="rotate(114.26124950173563 466.2 295.3)" fill="#4a3114" stroke="none" stroke-width="0"/>
<ellipse cx="364.3" cy="311.0" rx="1.4" ry="1.2" transform="rotate(59.36465944421377 364.3 311.0)" fill="#d2b47a" stroke="#3f2a10" stroke-width="0.9"/>
<ellipse cx="442.1" cy="313.6" rx="1.6" ry="0.9" transform="rotate(56.61308829063023 442.1 313.6)" fill="#4a3114" stroke="none" stroke-width="0"/>
<ellipse cx="555.4" cy="266.5" rx="1.1" ry="1.0" transform="rotate(136.15976773000327 555.4 266.5)" fill="#d2b47a" stroke="#3f2a10" stroke-width="0.9"/>
<ellipse cx="532.2" cy="279.1" rx="1.6" ry="1.1" transform="rotate(43.073543218977065 532.2 279.1)" fill="#d2b47a" stroke="#3f2a10" stroke-width="0.9"/>
<ellipse cx="526.5" cy="257.4" rx="1.5" ry="1.0" transform="rotate(91.59696271251211 526.5 257.4)" fill="#4a3114" stroke="none" stroke-width="0"/>
<ellipse cx="552.4" cy="267.7" rx="1.6" ry="1.1" transform="rotate(158.2787259263657 552.4 267.7)" fill="#d2b47a" stroke="#3f2a10" stroke-width="0.9"/>
<ellipse cx="507.7" cy="289.5" rx="1.6" ry="1.1" transform="rotate(147.6989051734041 507.7 289.5)" fill="#d2b47a" stroke="#3f2a10" stroke-width="0.9"/>
<ellipse cx="283.9" cy="342.6" rx="1.5" ry="0.8" transform="rotate(96.94450398669727 283.9 342.6)" fill="#4a3114" stroke="none" stroke-width="0"/>
<ellipse cx="384.2" cy="304.5" rx="1.4" ry="1.1" transform="rotate(42.04124029042076 384.2 304.5)" fill="#d2b47a" stroke="#3f2a10" stroke-width="0.9"/>
<ellipse cx="473.6" cy="297.0" rx="1.8" ry="0.9" transform="rotate(119.46398930721624 473.6 297.0)" fill="#4a3114" stroke="none" stroke-width="0"/>
<ellipse cx="365.7" cy="316.8" rx="1.5" ry="1.2" transform="rotate(79.25511775872188 365.7 316.8)" fill="#d2b47a" stroke="#3f2a10" stroke-width="0.9"/>
<ellipse cx="377.5" cy="322.4" rx="1.4" ry="1.0" transform="rotate(84.50830817725175 377.5 322.4)" fill="#d2b47a" stroke="#3f2a10" stroke-width="0.9"/>
<ellipse cx="548.1" cy="274.5" rx="1.9" ry="1.0" transform="rotate(154.681593150288 548.1 274.5)" fill="#4a3114" stroke="none" stroke-width="0"/>
<ellipse cx="321.3" cy="337.6" rx="1.9" ry="0.7" transform="rotate(12.31573449267926 321.3 337.6)" fill="#4a3114" stroke="none" stroke-width="0"/>
<ellipse cx="559.0" cy="261.2" rx="1.4" ry="1.2" transform="rotate(79.86213929910704 559.0 261.2)" fill="#d2b47a" stroke="#3f2a10" stroke-width="0.9"/>
<ellipse cx="240.4" cy="365.8" rx="1.1" ry="1.3" transform="rotate(25.761189623131738 240.4 365.8)" fill="#d2b47a" stroke="#3f2a10" stroke-width="0.9"/>
<ellipse cx="352.5" cy="310.5" rx="1.5" ry="1.3" transform="rotate(121.9699594258343 352.5 310.5)" fill="#d2b47a" stroke="#3f2a10" stroke-width="0.9"/>
<ellipse cx="500.4" cy="275.2" rx="1.1" ry="1.1" transform="rotate(103.4661474321561 500.4 275.2)" fill="#d2b47a" stroke="#3f2a10" stroke-width="0.9"/>
<ellipse cx="452.6" cy="306.5" rx="1.9" ry="1.0" transform="rotate(55.607919111474494 452.6 306.5)" fill="#4a3114" stroke="none" stroke-width="0"/>
<ellipse cx="494.7" cy="294.4" rx="1.5" ry="1.2" transform="rotate(60.96874568433953 494.7 294.4)" fill="#d2b47a" stroke="#3f2a10" stroke-width="0.9"/>
<ellipse cx="547.4" cy="261.6" rx="1.0" ry="0.9" transform="rotate(81.86148499209745 547.4 261.6)" fill="#4a3114" stroke="none" stroke-width="0"/>
<ellipse cx="260.2" cy="358.5" rx="1.3" ry="0.9" transform="rotate(25.159862251299792 260.2 358.5)" fill="#4a3114" stroke="none" stroke-width="0"/>
<ellipse cx="539.3" cy="268.9" rx="1.5" ry="1.0" transform="rotate(81.65587624000067 539.3 268.9)" fill="#d2b47a" stroke="#3f2a10" stroke-width="0.9"/>
<ellipse cx="539.2" cy="278.9" rx="1.2" ry="0.9" transform="rotate(88.08246680213061 539.2 278.9)" fill="#d2b47a" stroke="#3f2a10" stroke-width="0.9"/>
<ellipse cx="504.3" cy="286.2" rx="1.6" ry="1.0" transform="rotate(71.66513569398715 504.3 286.2)" fill="#d2b47a" stroke="#3f2a10" stroke-width="0.9"/>
<ellipse cx="248.1" cy="362.8" rx="1.4" ry="1.2" transform="rotate(107.48627271351812 248.1 362.8)" fill="#d2b47a" stroke="#3f2a10" stroke-width="0.9"/>
<ellipse cx="268.8" cy="345.8" rx="1.5" ry="1.0" transform="rotate(38.87124334536146 268.8 345.8)" fill="#d2b47a" stroke="#3f2a10" stroke-width="0.9"/>
<ellipse cx="509.8" cy="263.2" rx="1.0" ry="1.0" transform="rotate(26.04383645769144 509.8 263.2)" fill="#4a3114" stroke="none" stroke-width="0"/>
<ellipse cx="184.9" cy="377.8" rx="1.2" ry="1.0" transform="rotate(9.431823215011772 184.9 377.8)" fill="#d2b47a" stroke="#3f2a10" stroke-width="0.9"/>
<ellipse cx="460.6" cy="300.6" rx="1.5" ry="1.1" transform="rotate(19.62972180069219 460.6 300.6)" fill="#d2b47a" stroke="#3f2a10" stroke-width="0.9"/>
<ellipse cx="508.8" cy="275.9" rx="1.1" ry="0.9" transform="rotate(72.29110581226088 508.8 275.9)" fill="#4a3114" stroke="none" stroke-width="0"/>
<ellipse cx="439.1" cy="313.0" rx="1.0" ry="1.1" transform="rotate(11.822801997620505 439.1 313.0)" fill="#d2b47a" stroke="#3f2a10" stroke-width="0.9"/>
<ellipse cx="379.3" cy="317.2" rx="1.4" ry="1.2" transform="rotate(117.16499967863497 379.3 317.2)" fill="#d2b47a" stroke="#3f2a10" stroke-width="0.9"/>
<ellipse cx="348.8" cy="314.9" rx="1.2" ry="0.9" transform="rotate(76.81752112697244 348.8 314.9)" fill="#d2b47a" stroke="#3f2a10" stroke-width="0.9"/>
<ellipse cx="530.3" cy="284.9" rx="1.1" ry="1.2" transform="rotate(146.11847134993062 530.3 284.9)" fill="#d2b47a" stroke="#3f2a10" stroke-width="0.9"/>
<ellipse cx="389.2" cy="312.8" rx="1.1" ry="1.0" transform="rotate(119.76129360052478 389.2 312.8)" fill="#d2b47a" stroke="#3f2a10" stroke-width="0.9"/>
<ellipse cx="261.3" cy="359.1" rx="1.5" ry="1.1" transform="rotate(145.299846807422 261.3 359.1)" fill="#d2b47a" stroke="#3f2a10" stroke-width="0.9"/>
<ellipse cx="490.1" cy="288.4" rx="1.6" ry="1.2" transform="rotate(48.14059052773992 490.1 288.4)" fill="#d2b47a" stroke="#3f2a10" stroke-width="0.9"/>
<ellipse cx="509.9" cy="273.3" rx="1.4" ry="0.9" transform="rotate(134.3001171610272 509.9 273.3)" fill="#d2b47a" stroke="#3f2a10" stroke-width="0.9"/>
<ellipse cx="306.2" cy="341.9" rx="1.6" ry="0.7" transform="rotate(9.469588756593922 306.2 341.9)" fill="#4a3114" stroke="none" stroke-width="0"/>
<ellipse cx="362.0" cy="308.7" rx="1.1" ry="0.9" transform="rotate(50.98436461448088 362.0 308.7)" fill="#4a3114" stroke="none" stroke-width="0"/>
<ellipse cx="405.7" cy="297.8" rx="1.1" ry="1.0" transform="rotate(59.062024068811404 405.7 297.8)" fill="#d2b47a" stroke="#3f2a10" stroke-width="0.9"/>
<ellipse cx="445.9" cy="308.1" rx="1.1" ry="1.0" transform="rotate(7.614407081302447 445.9 308.1)" fill="#4a3114" stroke="none" stroke-width="0"/>
<ellipse cx="506.9" cy="281.0" rx="1.4" ry="0.7" transform="rotate(3.754180624454786 506.9 281.0)" fill="#4a3114" stroke="none" stroke-width="0"/>
<ellipse cx="529.1" cy="285.8" rx="1.4" ry="1.1" transform="rotate(71.23800543467993 529.1 285.8)" fill="#d2b47a" stroke="#3f2a10" stroke-width="0.9"/>
<ellipse cx="294.5" cy="329.5" rx="1.3" ry="0.9" transform="rotate(91.79137121813496 294.5 329.5)" fill="#d2b47a" stroke="#3f2a10" stroke-width="0.9"/>
<ellipse cx="523.8" cy="282.6" rx="1.8" ry="0.8" transform="rotate(26.35995928998499 523.8 282.6)" fill="#4a3114" stroke="none" stroke-width="0"/>
<ellipse cx="472.5" cy="297.7" rx="1.4" ry="1.1" transform="rotate(101.60852101250387 472.5 297.7)" fill="#4a3114" stroke="none" stroke-width="0"/>
<ellipse cx="419.6" cy="316.5" rx="1.2" ry="0.7" transform="rotate(79.59745149053127 419.6 316.5)" fill="#4a3114" stroke="none" stroke-width="0"/>
<ellipse cx="370.3" cy="313.5" rx="1.5" ry="0.9" transform="rotate(155.56500610654305 370.3 313.5)" fill="#d2b47a" stroke="#3f2a10" stroke-width="0.9"/>
<ellipse cx="504.3" cy="279.1" rx="1.3" ry="1.2" transform="rotate(161.25781780022447 504.3 279.1)" fill="#d2b47a" stroke="#3f2a10" stroke-width="0.9"/>
<ellipse cx="521.2" cy="282.8" rx="1.1" ry="1.0" transform="rotate(78.79648937566193 521.2 282.8)" fill="#d2b47a" stroke="#3f2a10" stroke-width="0.9"/>
<ellipse cx="511.2" cy="280.2" rx="1.2" ry="1.3" transform="rotate(125.72639330613858 511.2 280.2)" fill="#d2b47a" stroke="#3f2a10" stroke-width="0.9"/>
<ellipse cx="536.1" cy="265.2" rx="1.8" ry="1.0" transform="rotate(149.2126151210036 536.1 265.2)" fill="#4a3114" stroke="none" stroke-width="0"/>
<ellipse cx="459.4" cy="292.1" rx="1.4" ry="0.8" transform="rotate(65.26758041676798 459.4 292.1)" fill="#4a3114" stroke="none" stroke-width="0"/>
<ellipse cx="470.0" cy="283.2" rx="1.5" ry="1.2" transform="rotate(145.6278695350742 470.0 283.2)" fill="#d2b47a" stroke="#3f2a10" stroke-width="0.9"/>
<ellipse cx="547.0" cy="279.2" rx="1.2" ry="1.2" transform="rotate(157.34105010940266 547.0 279.2)" fill="#d2b47a" stroke="#3f2a10" stroke-width="0.9"/>
<ellipse cx="388.5" cy="324.3" rx="1.3" ry="1.0" transform="rotate(49.10243392644419 388.5 324.3)" fill="#4a3114" stroke="none" stroke-width="0"/>
<ellipse cx="523.5" cy="271.0" rx="1.2" ry="0.9" transform="rotate(62.92531406495681 523.5 271.0)" fill="#4a3114" stroke="none" stroke-width="0"/>
<ellipse cx="185.3" cy="366.2" rx="1.6" ry="1.0" transform="rotate(5.073758195067011 185.3 366.2)" fill="#d2b47a" stroke="#3f2a10" stroke-width="0.9"/>
<ellipse cx="533.4" cy="276.8" rx="1.1" ry="0.8" transform="rotate(149.35708496750806 533.4 276.8)" fill="#4a3114" stroke="none" stroke-width="0"/>
<ellipse cx="378.2" cy="304.8" rx="1.0" ry="1.1" transform="rotate(142.90183955509886 378.2 304.8)" fill="#d2b47a" stroke="#3f2a10" stroke-width="0.9"/>
<ellipse cx="351.0" cy="337.0" rx="1.0" ry="1.1" transform="rotate(43.5488641957788 351.0 337.0)" fill="#d2b47a" stroke="#3f2a10" stroke-width="0.9"/>
<ellipse cx="388.3" cy="309.3" rx="2.0" ry="0.8" transform="rotate(2.9236015996105724 388.3 309.3)" fill="#4a3114" stroke="none" stroke-width="0"/>
<ellipse cx="478.6" cy="295.2" rx="1.8" ry="1.0" transform="rotate(59.85334950695728 478.6 295.2)" fill="#4a3114" stroke="none" stroke-width="0"/>
<ellipse cx="488.2" cy="294.4" rx="1.4" ry="1.2" transform="rotate(146.06958273256916 488.2 294.4)" fill="#d2b47a" stroke="#3f2a10" stroke-width="0.9"/>
<ellipse cx="251.8" cy="365.2" rx="1.6" ry="1.1" transform="rotate(45.59647773647113 251.8 365.2)" fill="#d2b47a" stroke="#3f2a10" stroke-width="0.9"/>
<ellipse cx="465.0" cy="283.8" rx="1.9" ry="0.8" transform="rotate(22.405501483989013 465.0 283.8)" fill="#4a3114" stroke="none" stroke-width="0"/>
<ellipse cx="366.0" cy="333.6" rx="1.5" ry="1.2" transform="rotate(14.206861089984217 366.0 333.6)" fill="#d2b47a" stroke="#3f2a10" stroke-width="0.9"/>
<ellipse cx="310.3" cy="346.7" rx="1.6" ry="1.0" transform="rotate(176.40491025497025 310.3 346.7)" fill="#d2b47a" stroke="#3f2a10" stroke-width="0.9"/>
<ellipse cx="539.9" cy="274.5" rx="1.5" ry="1.2" transform="rotate(171.5020913303294 539.9 274.5)" fill="#d2b47a" stroke="#3f2a10" stroke-width="0.9"/>
<ellipse cx="474.7" cy="282.2" rx="1.4" ry="1.2" transform="rotate(170.78823526780016 474.7 282.2)" fill="#d2b47a" stroke="#3f2a10" stroke-width="0.9"/>
<ellipse cx="458.2" cy="286.9" rx="1.2" ry="1.0" transform="rotate(80.32916023301091 458.2 286.9)" fill="#d2b47a" stroke="#3f2a10" stroke-width="0.9"/>
<ellipse cx="558.6" cy="280.6" rx="1.1" ry="1.2" transform="rotate(81.36768334417152 558.6 280.6)" fill="#d2b47a" stroke="#3f2a10" stroke-width="0.9"/>
<ellipse cx="521.0" cy="257.7" rx="1.8" ry="0.8" transform="rotate(62.53655305294161 521.0 257.7)" fill="#4a3114" stroke="none" stroke-width="0"/>
<ellipse cx="518.2" cy="283.5" rx="1.6" ry="1.0" transform="rotate(91.57603413137414 518.2 283.5)" fill="#4a3114" stroke="none" stroke-width="0"/>
<ellipse cx="559.8" cy="264.6" rx="1.8" ry="0.7" transform="rotate(175.02835167247787 559.8 264.6)" fill="#4a3114" stroke="none" stroke-width="0"/>
<ellipse cx="547.0" cy="283.5" rx="1.1" ry="1.0" transform="rotate(29.63827438022234 547.0 283.5)" fill="#d2b47a" stroke="#3f2a10" stroke-width="0.9"/>
<ellipse cx="519.5" cy="264.7" rx="1.6" ry="0.8" transform="rotate(54.50842909959769 519.5 264.7)" fill="#4a3114" stroke="none" stroke-width="0"/>
<ellipse cx="537.5" cy="276.1" rx="1.6" ry="1.0" transform="rotate(101.45124619763324 537.5 276.1)" fill="#4a3114" stroke="none" stroke-width="0"/>
<ellipse cx="470.3" cy="293.7" rx="1.4" ry="1.0" transform="rotate(172.1970305917929 470.3 293.7)" fill="#d2b47a" stroke="#3f2a10" stroke-width="0.9"/>
<ellipse cx="361.4" cy="322.2" rx="1.4" ry="1.2" transform="rotate(154.93992583577855 361.4 322.2)" fill="#d2b47a" stroke="#3f2a10" stroke-width="0.9"/>
<ellipse cx="550.5" cy="261.0" rx="1.2" ry="1.1" transform="rotate(48.14490140175283 550.5 261.0)" fill="#d2b47a" stroke="#3f2a10" stroke-width="0.9"/>
<ellipse cx="270.4" cy="334.4" rx="1.4" ry="1.0" transform="rotate(155.75535030972918 270.4 334.4)" fill="#d2b47a" stroke="#3f2a10" stroke-width="0.9"/>
<ellipse cx="397.4" cy="318.6" rx="1.3" ry="1.1" transform="rotate(55.53728676979728 397.4 318.6)" fill="#d2b47a" stroke="#3f2a10" stroke-width="0.9"/>
<ellipse cx="514.7" cy="274.8" rx="1.5" ry="1.1" transform="rotate(158.8420315653467 514.7 274.8)" fill="#d2b47a" stroke="#3f2a10" stroke-width="0.9"/>
<ellipse cx="315.9" cy="333.2" rx="1.3" ry="0.9" transform="rotate(90.76599524217684 315.9 333.2)" fill="#d2b47a" stroke="#3f2a10" stroke-width="0.9"/>
<ellipse cx="465.7" cy="289.7" rx="1.0" ry="1.0" transform="rotate(59.94732696349809 465.7 289.7)" fill="#d2b47a" stroke="#3f2a10" stroke-width="0.9"/>
<ellipse cx="357.4" cy="323.2" rx="1.2" ry="1.1" transform="rotate(29.25036825784909 357.4 323.2)" fill="#d2b47a" stroke="#3f2a10" stroke-width="0.9"/>
<ellipse cx="552.3" cy="277.5" rx="1.7" ry="0.7" transform="rotate(85.4262385353109 552.3 277.5)" fill="#4a3114" stroke="none" stroke-width="0"/>
<ellipse cx="547.3" cy="278.1" rx="1.4" ry="1.1" transform="rotate(30.692171114398683 547.3 278.1)" fill="#d2b47a" stroke="#3f2a10" stroke-width="0.9"/>
<ellipse cx="417.2" cy="316.3" rx="1.4" ry="0.9" transform="rotate(170.67693074117423 417.2 316.3)" fill="#d2b47a" stroke="#3f2a10" stroke-width="0.9"/>
<ellipse cx="217.3" cy="349.9" rx="1.4" ry="1.1" transform="rotate(139.49501432527637 217.3 349.9)" fill="#d2b47a" stroke="#3f2a10" stroke-width="0.9"/>
<ellipse cx="529.4" cy="281.4" rx="1.1" ry="1.0" transform="rotate(58.50891619668986 529.4 281.4)" fill="#d2b47a" stroke="#3f2a10" stroke-width="0.9"/>
<ellipse cx="306.8" cy="343.7" rx="1.6" ry="1.0" transform="rotate(109.81378441417527 306.8 343.7)" fill="#4a3114" stroke="none" stroke-width="0"/>
<ellipse cx="249.0" cy="351.0" rx="1.6" ry="1.0" transform="rotate(52.02074473263449 249.0 351.0)" fill="#d2b47a" stroke="#3f2a10" stroke-width="0.9"/>
<ellipse cx="297.1" cy="352.8" rx="1.3" ry="0.7" transform="rotate(121.79200424085823 297.1 352.8)" fill="#4a3114" stroke="none" stroke-width="0"/>
<ellipse cx="484.8" cy="275.6" rx="1.3" ry="0.9" transform="rotate(46.15991558522678 484.8 275.6)" fill="#4a3114" stroke="none" stroke-width="0"/>
<ellipse cx="359.4" cy="320.0" rx="1.7" ry="0.8" transform="rotate(110.82186619460862 359.4 320.0)" fill="#4a3114" stroke="none" stroke-width="0"/>
<ellipse cx="451.2" cy="304.2" rx="1.3" ry="1.3" transform="rotate(73.24334127843902 451.2 304.2)" fill="#d2b47a" stroke="#3f2a10" stroke-width="0.9"/>
<ellipse cx="535.0" cy="269.5" rx="1.6" ry="1.0" transform="rotate(116.26162522024858 535.0 269.5)" fill="#d2b47a" stroke="#3f2a10" stroke-width="0.9"/>
<ellipse cx="524.6" cy="276.2" rx="1.4" ry="1.3" transform="rotate(164.38135062057344 524.6 276.2)" fill="#d2b47a" stroke="#3f2a10" stroke-width="0.9"/>
<ellipse cx="558.9" cy="263.7" rx="2.0" ry="1.1" transform="rotate(157.81377022522622 558.9 263.7)" fill="#4a3114" stroke="none" stroke-width="0"/>
<ellipse cx="384.2" cy="329.2" rx="1.5" ry="0.8" transform="rotate(20.276416983627804 384.2 329.2)" fill="#4a3114" stroke="none" stroke-width="0"/>
<ellipse cx="274.0" cy="351.3" rx="1.6" ry="1.0" transform="rotate(31.58908449092365 274.0 351.3)" fill="#4a3114" stroke="none" stroke-width="0"/>
<ellipse cx="299.6" cy="325.2" rx="1.5" ry="1.3" transform="rotate(54.35025114449065 299.6 325.2)" fill="#d2b47a" stroke="#3f2a10" stroke-width="0.9"/>
<ellipse cx="527.7" cy="277.0" rx="1.1" ry="1.0" transform="rotate(134.59227068715418 527.7 277.0)" fill="#d2b47a" stroke="#3f2a10" stroke-width="0.9"/>
<ellipse cx="375.3" cy="302.3" rx="1.1" ry="1.1" transform="rotate(145.5645749719027 375.3 302.3)" fill="#d2b47a" stroke="#3f2a10" stroke-width="0.9"/>
<ellipse cx="350.9" cy="319.3" rx="1.7" ry="0.9" transform="rotate(146.9615806679635 350.9 319.3)" fill="#4a3114" stroke="none" stroke-width="0"/>
<ellipse cx="534.8" cy="287.8" rx="1.2" ry="1.2" transform="rotate(137.84898292626812 534.8 287.8)" fill="#d2b47a" stroke="#3f2a10" stroke-width="0.9"/>
<ellipse cx="551.7" cy="262.7" rx="1.4" ry="1.0" transform="rotate(163.21811607442305 551.7 262.7)" fill="#4a3114" stroke="none" stroke-width="0"/>
<ellipse cx="308.9" cy="333.8" rx="1.4" ry="1.0" transform="rotate(0.6251930900834002 308.9 333.8)" fill="#d2b47a" stroke="#3f2a10" stroke-width="0.9"/>
<ellipse cx="492.0" cy="276.0" rx="1.6" ry="1.2" transform="rotate(20.31203497796592 492.0 276.0)" fill="#d2b47a" stroke="#3f2a10" stroke-width="0.9"/>
<ellipse cx="486.6" cy="294.3" rx="1.0" ry="0.8" transform="rotate(18.161408356651265 486.6 294.3)" fill="#4a3114" stroke="none" stroke-width="0"/>
<ellipse cx="329.9" cy="315.2" rx="1.1" ry="0.9" transform="rotate(52.06742124370539 329.9 315.2)" fill="#4a3114" stroke="none" stroke-width="0"/>
<ellipse cx="489.1" cy="275.7" rx="1.4" ry="1.0" transform="rotate(54.31759832595659 489.1 275.7)" fill="#d2b47a" stroke="#3f2a10" stroke-width="0.9"/>
<ellipse cx="549.3" cy="273.3" rx="1.3" ry="0.9" transform="rotate(26.859169408529464 549.3 273.3)" fill="#4a3114" stroke="none" stroke-width="0"/>
<ellipse cx="389.6" cy="299.9" rx="1.4" ry="1.3" transform="rotate(152.48400946553014 389.6 299.9)" fill="#d2b47a" stroke="#3f2a10" stroke-width="0.9"/>
<ellipse cx="434.4" cy="312.9" rx="1.5" ry="1.2" transform="rotate(100.5930857290549 434.4 312.9)" fill="#d2b47a" stroke="#3f2a10" stroke-width="0.9"/>
<ellipse cx="359.4" cy="322.6" rx="1.5" ry="1.1" transform="rotate(139.59249877147866 359.4 322.6)" fill="#d2b47a" stroke="#3f2a10" stroke-width="0.9"/>
<ellipse cx="313.3" cy="331.6" rx="1.1" ry="1.3" transform="rotate(84.50827596406052 313.3 331.6)" fill="#d2b47a" stroke="#3f2a10" stroke-width="0.9"/>
<ellipse cx="317.7" cy="332.3" rx="1.1" ry="1.0" transform="rotate(168.25648505334362 317.7 332.3)" fill="#d2b47a" stroke="#3f2a10" stroke-width="0.9"/>
<path d="M519,258 C521,263 520,268 523,275" fill="none" stroke="#3a2610" stroke-width="1.0" />
<path d="M526,256 C530,262 533,268 538,273" fill="none" stroke="#3a2610" stroke-width="1.0" />
<path d="M533,256 C538,262 544,266 548,272" fill="none" stroke="#3a2610" stroke-width="1.0" />
<path d="M512,262 C513,267 512,271 514,276" fill="none" stroke="#3a2610" stroke-width="1.0" />
<path d="M541,259 C545,263 549,265 552,268" fill="none" stroke="#3a2610" stroke-width="1.0" />
<ellipse cx="500.0" cy="249.0" rx="1.7" ry="1.5" transform="rotate(0 500.0 249.0)" fill="#fff" stroke="#222" stroke-width="0.9"/>
<ellipse cx="504.0" cy="243.0" rx="1.7" ry="1.5" transform="rotate(0 504.0 243.0)" fill="#fff" stroke="#222" stroke-width="0.9"/>
<ellipse cx="509.0" cy="237.0" rx="1.7" ry="1.5" transform="rotate(0 509.0 237.0)" fill="#fff" stroke="#222" stroke-width="0.9"/>
<ellipse cx="514.0" cy="239.0" rx="1.7" ry="1.5" transform="rotate(0 514.0 239.0)" fill="#fff" stroke="#222" stroke-width="0.9"/>
<ellipse cx="517.0" cy="245.0" rx="1.7" ry="1.5" transform="rotate(0 517.0 245.0)" fill="#fff" stroke="#222" stroke-width="0.9"/>
<ellipse cx="521.0" cy="240.0" rx="1.7" ry="1.5" transform="rotate(0 521.0 240.0)" fill="#fff" stroke="#222" stroke-width="0.9"/>
<ellipse cx="526.0" cy="242.0" rx="1.7" ry="1.5" transform="rotate(0 526.0 242.0)" fill="#fff" stroke="#222" stroke-width="0.9"/>
<ellipse cx="531.0" cy="246.0" rx="1.7" ry="1.5" transform="rotate(0 531.0 246.0)" fill="#fff" stroke="#222" stroke-width="0.9"/>
<ellipse cx="523.0" cy="247.0" rx="1.7" ry="1.5" transform="rotate(0 523.0 247.0)" fill="#fff" stroke="#222" stroke-width="0.9"/>
<ellipse cx="532.0" cy="252.0" rx="1.7" ry="1.5" transform="rotate(0 532.0 252.0)" fill="#fff" stroke="#222" stroke-width="0.9"/>
<ellipse cx="505.0" cy="254.0" rx="1.7" ry="1.5" transform="rotate(0 505.0 254.0)" fill="#fff" stroke="#222" stroke-width="0.9"/>
<ellipse cx="512.0" cy="250.0" rx="1.7" ry="1.5" transform="rotate(0 512.0 250.0)" fill="#fff" stroke="#222" stroke-width="0.9"/>
<ellipse cx="527.0" cy="250.0" rx="1.7" ry="1.5" transform="rotate(0 527.0 250.0)" fill="#fff" stroke="#222" stroke-width="0.9"/>
<ellipse cx="514.0" cy="207.0" rx="1.6" ry="1.4" transform="rotate(0 514.0 207.0)" fill="#fff" stroke="#222" stroke-width="0.9"/>
<ellipse cx="518.0" cy="212.0" rx="1.6" ry="1.4" transform="rotate(0 518.0 212.0)" fill="#fff" stroke="#222" stroke-width="0.9"/>
<ellipse cx="524.0" cy="209.0" rx="1.6" ry="1.4" transform="rotate(0 524.0 209.0)" fill="#fff" stroke="#222" stroke-width="0.9"/>
<ellipse cx="528.0" cy="214.0" rx="1.6" ry="1.4" transform="rotate(0 528.0 214.0)" fill="#fff" stroke="#222" stroke-width="0.9"/>
<ellipse cx="530.0" cy="208.0" rx="1.6" ry="1.4" transform="rotate(0 530.0 208.0)" fill="#fff" stroke="#222" stroke-width="0.9"/>
<ellipse cx="521.0" cy="215.0" rx="1.6" ry="1.4" transform="rotate(0 521.0 215.0)" fill="#fff" stroke="#222" stroke-width="0.9"/>
<path d="M497,279.5 C503,272 506.5,263 507.5,252 L504,251 L511,240.5 L518,254.5 L514,253.5 C513.5,266 511,275 506,281.5 Z" fill="#fff" stroke="#1b1b1b" stroke-width="1.1" />
<polygon points="399.4,312.3 438.5,301.3 439.6,305.4 452.0,294.0 435.5,290.7 436.6,294.8 397.6,305.7" fill="#fff" stroke="#1b1b1b" stroke-width="1.0" />
<polygon points="571.9,266.3 609.9,255.8 611.1,259.8 623.5,248.5 607.0,245.2 608.1,249.2 570.1,259.7" fill="#fff" stroke="#1b1b1b" stroke-width="1.0" />
<polygon points="715.3,224.1 758.3,213.2 759.3,217.3 772.0,206.2 755.6,202.5 756.6,206.6 713.7,217.5" fill="#fff" stroke="#1b1b1b" stroke-width="1.0" />
<polygon points="188.6,328.0 228.1,319.0 229.0,322.8 246.0,312.0 226.0,309.6 226.8,313.4 187.4,322.4" fill="#fff" stroke="#1b1b1b" stroke-width="1.1" />
<polygon points="635.5,407.5 648.5,402.6 665.5,407.5 665.5,409.7 651.5,416.4 635.5,409.7" fill="#9aa5a9" stroke="#1b1b1b" stroke-width="1.0" />
<polygon points="635.5,407.5 648.5,402.6 665.5,407.5 651.5,414.2" fill="#c0c8cb" stroke="#1b1b1b" stroke-width="1.0" />
<polygon points="643.8,214.0 650.4,214.0 650.4,407.0 643.8,407.0" fill="#cdd4d6" stroke="#1b1b1b" stroke-width="1.0" />
<polygon points="650.4,214.0 661.2,214.0 661.2,407.0 650.4,407.0" fill="#a7b1b5" stroke="#1b1b1b" stroke-width="1.0" />
<polygon points="650.4,214.0 653.0,214.0 653.0,407.0 650.4,407.0" fill="#7f8b8f" stroke="#1b1b1b" stroke-width="0.7" />
<polygon points="630.5,247.5 644.0,247.5 575.5,400.0 562.0,400.0" fill="#bcc5c8" stroke="#1b1b1b" stroke-width="1.0" />
<polyline points="636.6,247.5 568.1,400.0" fill="none" stroke="#1b1b1b" stroke-width="0.8" />
<polygon points="545.0,434.5 560.5,429.6 580.0,434.5 580.0,436.7 563.5,443.4 545.0,436.7" fill="#9aa5a9" stroke="#1b1b1b" stroke-width="1.0" />
<polygon points="545.0,434.5 560.5,429.6 580.0,434.5 563.5,441.2" fill="#c0c8cb" stroke="#1b1b1b" stroke-width="1.0" />
<polygon points="553.8,246.0 560.8,246.0 560.8,434.0 553.8,434.0" fill="#cdd4d6" stroke="#1b1b1b" stroke-width="1.0" />
<polygon points="560.8,246.0 572.3,246.0 572.3,434.0 560.8,434.0" fill="#a7b1b5" stroke="#1b1b1b" stroke-width="1.0" />
<polygon points="560.8,246.0 563.4,246.0 563.4,434.0 560.8,434.0" fill="#7f8b8f" stroke="#1b1b1b" stroke-width="0.7" />
<polygon points="611.0,195.5 633.0,200.5 625.0,207.0 625.0,214.5 611.0,215.5" fill="#8f9a9e" stroke="#1b1b1b" stroke-width="0.9" />
<polygon points="603.0,197.0 611.0,195.5 611.0,215.5 603.0,216.5" fill="#cfd6d8" stroke="#1b1b1b" stroke-width="0.9" />
<ellipse cx="606.8" cy="203.0" rx="0.7" ry="0.9" transform="rotate(0 606.8 203.0)" fill="#555" stroke="none" stroke-width="0"/>
<ellipse cx="606.8" cy="210.0" rx="0.7" ry="0.9" transform="rotate(0 606.8 210.0)" fill="#555" stroke="none" stroke-width="0"/>
<polygon points="633.0,200.0 651.0,205.0 719.0,309.0 700.0,317.5" fill="#9ba5a9" stroke="#1b1b1b" stroke-width="1.0" />
<polygon points="651.0,205.0 659.0,192.0 727.5,306.0 719.0,309.0" fill="#bcc5c8" stroke="#1b1b1b" stroke-width="1.0" />
<polygon points="630.5,199.0 636.5,186.6 659.0,192.0 651.0,205.0" fill="#cdd4d6" stroke="#1b1b1b" stroke-width="1.0" />
<polygon points="624.0,207.0 630.5,199.0 633.0,200.0 700.0,317.5 692.5,324.0 687.5,325.0" fill="url(#gChN)" stroke="#1b1b1b" stroke-width="1.1" />
<polyline points="692.5,324.0 700.0,317.5" fill="none" stroke="#1b1b1b" stroke-width="0.8" />
<polygon points="637.7,207.3 661.3,244.8 657.6,247.0 671.0,254.0 670.5,238.9 666.9,241.2 643.3,203.7" fill="#fff" stroke="#1b1b1b" stroke-width="1.0" />
<ellipse cx="694.6" cy="286.4" rx="1.4" ry="1.1" transform="rotate(166.35790512427127 694.6 286.4)" fill="#c5cdd0" stroke="#222" stroke-width="0.8"/>
<ellipse cx="694.3" cy="287.2" rx="1.4" ry="1.1" transform="rotate(105.72926919298145 694.3 287.2)" fill="#c5cdd0" stroke="#222" stroke-width="0.8"/>
<ellipse cx="686.7" cy="274.8" rx="1.4" ry="1.1" transform="rotate(113.37888963902435 686.7 274.8)" fill="#c5cdd0" stroke="#222" stroke-width="0.8"/>
<ellipse cx="698.0" cy="303.6" rx="1.4" ry="1.1" transform="rotate(54.612227272414586 698.0 303.6)" fill="#c5cdd0" stroke="#222" stroke-width="0.8"/>
<ellipse cx="687.8" cy="270.0" rx="1.4" ry="1.1" transform="rotate(124.81892685742304 687.8 270.0)" fill="#c5cdd0" stroke="#222" stroke-width="0.8"/>
<ellipse cx="688.6" cy="267.6" rx="1.4" ry="1.1" transform="rotate(173.65640060260202 688.6 267.6)" fill="#c5cdd0" stroke="#222" stroke-width="0.8"/>
<ellipse cx="700.7" cy="295.1" rx="1.4" ry="1.1" transform="rotate(28.348937125229238 700.7 295.1)" fill="#c5cdd0" stroke="#222" stroke-width="0.8"/>
<ellipse cx="682.4" cy="267.3" rx="1.4" ry="1.1" transform="rotate(10.719198930393896 682.4 267.3)" fill="#c5cdd0" stroke="#222" stroke-width="0.8"/>
<ellipse cx="683.6" cy="275.7" rx="1.4" ry="1.1" transform="rotate(5.414866060461943 683.6 275.7)" fill="#c5cdd0" stroke="#222" stroke-width="0.8"/>
<ellipse cx="693.4" cy="287.4" rx="1.4" ry="1.1" transform="rotate(151.63688313333574 693.4 287.4)" fill="#c5cdd0" stroke="#222" stroke-width="0.8"/>
<ellipse cx="697.3" cy="289.1" rx="1.4" ry="1.1" transform="rotate(89.9591673972225 697.3 289.1)" fill="#c5cdd0" stroke="#222" stroke-width="0.8"/>
<ellipse cx="699.0" cy="296.1" rx="1.4" ry="1.1" transform="rotate(50.06932193949945 699.0 296.1)" fill="#c5cdd0" stroke="#222" stroke-width="0.8"/>
<ellipse cx="714.7" cy="308.1" rx="1.4" ry="1.1" transform="rotate(151.23879890871513 714.7 308.1)" fill="#c5cdd0" stroke="#222" stroke-width="0.8"/>
<ellipse cx="698.5" cy="298.7" rx="1.4" ry="1.1" transform="rotate(41.339862289423 698.5 298.7)" fill="#c5cdd0" stroke="#222" stroke-width="0.8"/>
<ellipse cx="684.2" cy="280.7" rx="1.4" ry="1.1" transform="rotate(137.93181955387325 684.2 280.7)" fill="#c5cdd0" stroke="#222" stroke-width="0.8"/>
<ellipse cx="696.7" cy="283.2" rx="1.4" ry="1.1" transform="rotate(69.57243570706821 696.7 283.2)" fill="#c5cdd0" stroke="#222" stroke-width="0.8"/>
<ellipse cx="711.8" cy="307.2" rx="1.4" ry="1.1" transform="rotate(0.09808867000268284 711.8 307.2)" fill="#c5cdd0" stroke="#222" stroke-width="0.8"/>
<ellipse cx="692.3" cy="274.9" rx="1.4" ry="1.1" transform="rotate(84.59770968245995 692.3 274.9)" fill="#c5cdd0" stroke="#222" stroke-width="0.8"/>
<ellipse cx="706.8" cy="310.5" rx="1.4" ry="1.1" transform="rotate(13.146901890065621 706.8 310.5)" fill="#c5cdd0" stroke="#222" stroke-width="0.8"/>
<ellipse cx="702.0" cy="293.3" rx="1.4" ry="1.1" transform="rotate(48.55960563302568 702.0 293.3)" fill="#c5cdd0" stroke="#222" stroke-width="0.8"/>
<ellipse cx="681.9" cy="270.9" rx="1.4" ry="1.1" transform="rotate(173.53371898687755 681.9 270.9)" fill="#c5cdd0" stroke="#222" stroke-width="0.8"/>
<ellipse cx="697.4" cy="301.9" rx="1.4" ry="1.1" transform="rotate(44.3498308007634 697.4 301.9)" fill="#c5cdd0" stroke="#222" stroke-width="0.8"/>
<ellipse cx="679.0" cy="272.1" rx="1.4" ry="1.1" transform="rotate(143.46387213191534 679.0 272.1)" fill="#c5cdd0" stroke="#222" stroke-width="0.8"/>
<ellipse cx="687.1" cy="274.4" rx="1.4" ry="1.1" transform="rotate(80.53647795018388 687.1 274.4)" fill="#c5cdd0" stroke="#222" stroke-width="0.8"/>
<polygon points="660.0,355.0 733.0,334.5 787.0,352.5 714.5,374.0" fill="#8e9a9e" stroke="none" stroke-width="1.1" />
<polygon points="660.0,355.0 733.0,334.5 733.0,372.0 664.0,380.0" fill="#8e9a9e" stroke="#1b1b1b" stroke-width="0.9" />
<polygon points="733.0,334.5 787.0,352.5 784.0,378.0 733.0,372.0" fill="#b6bfc2" stroke="#1b1b1b" stroke-width="0.9" />
<polygon points="661.0,357.0 714.5,376.0 714.5,435.0 664.0,417.5" fill="url(#gBinL)" stroke="#1b1b1b" stroke-width="1.1" />
<polygon points="714.5,376.0 786.0,354.5 782.5,414.5 714.5,435.0" fill="#a0aaae" stroke="#1b1b1b" stroke-width="1.1" />
<path d="M660.0,355.0 L714.5,374.0 L787.0,352.5 L733.0,334.5 Z M665.5,355.2 L733.3,337.6 L781.0,352.4 L714.5,370.4 Z" fill="#cfd6d8" stroke="#1b1b1b" stroke-width="1.0" fill-rule="evenodd"/>
<polygon points="660.0,355.0 714.5,374.0 714.5,376.5 660.3,357.5" fill="#aeb8bb" stroke="#1b1b1b" stroke-width="0.9" />
<polygon points="714.5,374.0 787.0,352.5 787.0,355.0 714.5,376.5" fill="#98a3a7" stroke="#1b1b1b" stroke-width="0.9" />
<ellipse cx="710.2" cy="335.1" rx="1.4" ry="1.1" transform="rotate(143.1348418018254 710.2 335.1)" fill="#c5cdd0" stroke="#1b1b1b" stroke-width="0.8"/>
<ellipse cx="718.5" cy="335.1" rx="1.4" ry="1.1" transform="rotate(166.01849939977507 718.5 335.1)" fill="#c5cdd0" stroke="#1b1b1b" stroke-width="0.8"/>
<ellipse cx="694.8" cy="331.0" rx="1.4" ry="1.1" transform="rotate(169.80420905969646 694.8 331.0)" fill="#c5cdd0" stroke="#1b1b1b" stroke-width="0.8"/>
<ellipse cx="710.9" cy="337.5" rx="1.4" ry="1.1" transform="rotate(20.377073637565985 710.9 337.5)" fill="#c5cdd0" stroke="#1b1b1b" stroke-width="0.8"/>
<ellipse cx="706.2" cy="327.7" rx="1.4" ry="1.1" transform="rotate(97.87695466246748 706.2 327.7)" fill="#c5cdd0" stroke="#1b1b1b" stroke-width="0.8"/>
<ellipse cx="708.9" cy="324.2" rx="1.4" ry="1.1" transform="rotate(39.011364083492666 708.9 324.2)" fill="#c5cdd0" stroke="#1b1b1b" stroke-width="0.8"/>
<ellipse cx="701.3" cy="337.7" rx="1.4" ry="1.1" transform="rotate(137.8305812932455 701.3 337.7)" fill="#c5cdd0" stroke="#1b1b1b" stroke-width="0.8"/>
<ellipse cx="698.1" cy="336.0" rx="1.4" ry="1.1" transform="rotate(24.978135311802568 698.1 336.0)" fill="#c5cdd0" stroke="#1b1b1b" stroke-width="0.8"/>
<ellipse cx="710.1" cy="325.9" rx="1.4" ry="1.1" transform="rotate(0.3194751964562359 710.1 325.9)" fill="#c5cdd0" stroke="#1b1b1b" stroke-width="0.8"/>
<ellipse cx="716.7" cy="327.1" rx="1.4" ry="1.1" transform="rotate(38.786610460451804 716.7 327.1)" fill="#c5cdd0" stroke="#1b1b1b" stroke-width="0.8"/>
<ellipse cx="719.5" cy="337.1" rx="1.4" ry="1.1" transform="rotate(52.07493019444677 719.5 337.1)" fill="#c5cdd0" stroke="#1b1b1b" stroke-width="0.8"/>
<ellipse cx="719.0" cy="332.1" rx="1.4" ry="1.1" transform="rotate(122.00948590510662 719.0 332.1)" fill="#c5cdd0" stroke="#1b1b1b" stroke-width="0.8"/>
<ellipse cx="699.3" cy="338.1" rx="1.4" ry="1.1" transform="rotate(124.31554939924348 699.3 338.1)" fill="#c5cdd0" stroke="#1b1b1b" stroke-width="0.8"/>
<ellipse cx="719.1" cy="337.4" rx="1.4" ry="1.1" transform="rotate(53.782001613696195 719.1 337.4)" fill="#c5cdd0" stroke="#1b1b1b" stroke-width="0.8"/>
<ellipse cx="703.4" cy="326.5" rx="1.4" ry="1.1" transform="rotate(26.22634371732285 703.4 326.5)" fill="#c5cdd0" stroke="#1b1b1b" stroke-width="0.8"/>
<ellipse cx="695.7" cy="328.5" rx="1.4" ry="1.1" transform="rotate(108.55979953337778 695.7 328.5)" fill="#c5cdd0" stroke="#1b1b1b" stroke-width="0.8"/>
<ellipse cx="702.1" cy="358.9" rx="1.4" ry="1.1" transform="rotate(60.82143509301572 702.1 358.9)" fill="#9aa5a9" stroke="#1b1b1b" stroke-width="0.8"/>
<ellipse cx="711.0" cy="362.0" rx="1.4" ry="1.1" transform="rotate(86.534133593407 711.0 362.0)" fill="#9aa5a9" stroke="#1b1b1b" stroke-width="0.8"/>
<ellipse cx="711.2" cy="354.6" rx="1.4" ry="1.1" transform="rotate(126.84044414536366 711.2 354.6)" fill="#9aa5a9" stroke="#1b1b1b" stroke-width="0.8"/>
<ellipse cx="703.7" cy="365.5" rx="1.4" ry="1.1" transform="rotate(4.115801385489728 703.7 365.5)" fill="#9aa5a9" stroke="#1b1b1b" stroke-width="0.8"/>
<ellipse cx="723.7" cy="362.6" rx="1.4" ry="1.1" transform="rotate(3.2521563681354215 723.7 362.6)" fill="#9aa5a9" stroke="#1b1b1b" stroke-width="0.8"/>
<ellipse cx="724.8" cy="352.1" rx="1.4" ry="1.1" transform="rotate(104.13338923023743 724.8 352.1)" fill="#9aa5a9" stroke="#1b1b1b" stroke-width="0.8"/>
<ellipse cx="702.3" cy="345.0" rx="1.4" ry="1.1" transform="rotate(32.56550783118861 702.3 345.0)" fill="#9aa5a9" stroke="#1b1b1b" stroke-width="0.8"/>
<ellipse cx="729.7" cy="348.3" rx="1.4" ry="1.1" transform="rotate(136.0325542412372 729.7 348.3)" fill="#9aa5a9" stroke="#1b1b1b" stroke-width="0.8"/>
<ellipse cx="729.0" cy="364.7" rx="1.4" ry="1.1" transform="rotate(61.988726349542155 729.0 364.7)" fill="#9aa5a9" stroke="#1b1b1b" stroke-width="0.8"/>
<ellipse cx="712.3" cy="355.5" rx="1.4" ry="1.1" transform="rotate(139.60854264581914 712.3 355.5)" fill="#9aa5a9" stroke="#1b1b1b" stroke-width="0.8"/>
<ellipse cx="705.1" cy="360.5" rx="1.4" ry="1.1" transform="rotate(143.5008019664399 705.1 360.5)" fill="#9aa5a9" stroke="#1b1b1b" stroke-width="0.8"/>
<ellipse cx="726.9" cy="344.8" rx="1.4" ry="1.1" transform="rotate(170.24403330759307 726.9 344.8)" fill="#9aa5a9" stroke="#1b1b1b" stroke-width="0.8"/>
<ellipse cx="704.6" cy="351.5" rx="1.4" ry="1.1" transform="rotate(109.94895685667237 704.6 351.5)" fill="#9aa5a9" stroke="#1b1b1b" stroke-width="0.8"/>
<ellipse cx="728.6" cy="351.5" rx="1.4" ry="1.1" transform="rotate(166.35557149700233 728.6 351.5)" fill="#9aa5a9" stroke="#1b1b1b" stroke-width="0.8"/>
<ellipse cx="717.8" cy="350.9" rx="1.4" ry="1.1" transform="rotate(57.02399741940789 717.8 350.9)" fill="#9aa5a9" stroke="#1b1b1b" stroke-width="0.8"/>
<ellipse cx="707.1" cy="345.7" rx="1.4" ry="1.1" transform="rotate(26.79624803218474 707.1 345.7)" fill="#9aa5a9" stroke="#1b1b1b" stroke-width="0.8"/>
<ellipse cx="722.0" cy="365.9" rx="1.4" ry="1.1" transform="rotate(29.075303596430924 722.0 365.9)" fill="#9aa5a9" stroke="#1b1b1b" stroke-width="0.8"/>
<ellipse cx="703.4" cy="365.7" rx="1.4" ry="1.1" transform="rotate(96.03553344495018 703.4 365.7)" fill="#9aa5a9" stroke="#1b1b1b" stroke-width="0.8"/>
<ellipse cx="713.8" cy="349.2" rx="1.4" ry="1.1" transform="rotate(106.91283972479344 713.8 349.2)" fill="#9aa5a9" stroke="#1b1b1b" stroke-width="0.8"/>
<ellipse cx="726.0" cy="354.0" rx="1.4" ry="1.1" transform="rotate(75.91631074408608 726.0 354.0)" fill="#9aa5a9" stroke="#1b1b1b" stroke-width="0.8"/>
<polygon points="366.0,172.0 425.0,154.0 425.0,167.2 397.8,176.8 397.8,184.0" fill="#87939a" stroke="#1b1b1b" stroke-width="0.9" />
<polygon points="358.0,164.0 393.0,154.0 430.0,143.5 430.0,152.5 364.0,172.5 358.6,171.6" fill="#c3cbce" stroke="#1b1b1b" stroke-width="1.0" />
<polyline points="358.6,167.5 425.0,149.5" fill="none" stroke="#1b1b1b" stroke-width="0.8" />
<polygon points="358.0,164.0 358.6,170.6 360.0,173.0 360.0,166.0" fill="#98a3a7" stroke="#1b1b1b" stroke-width="0.8" />
<polygon points="361.0,171.2 558.0,231.5 558.0,235.0 359.4,174.2" fill="#dfe4e6" stroke="#1b1b1b" stroke-width="0.9" />
<polygon points="359.4,174.2 558.0,235.0 558.0,244.0 357.0,183.0" fill="#b9c2c5" stroke="#1b1b1b" stroke-width="1.0" />
<polygon points="357.0,183.0 558.0,244.0 558.0,247.0 357.8,186.4" fill="#d3dadc" stroke="#1b1b1b" stroke-width="0.9" />
<polygon points="357.8,186.4 558.0,247.0 560.0,249.0 361.0,188.6" fill="#4f585b" stroke="#1b1b1b" stroke-width="1.1" />
<polyline points="357.0,183.0 558.0,244.0" fill="none" stroke="#1b1b1b" stroke-width="1.6" />
<polygon points="570.0,230.5 628.0,214.5 628.0,230.5 570.0,246.5" fill="#aab3b7" stroke="#1b1b1b" stroke-width="1.0" />
<polyline points="570.0,243.0 628.0,227.0" fill="none" stroke="#1b1b1b" stroke-width="0.8" />
<polygon points="558.0,222.4 604.0,209.6 614.0,214.5 570.0,228.0" fill="#d8dee0" stroke="#1b1b1b" stroke-width="1.0" />
<polygon points="570.0,228.0 614.0,214.5 628.0,211.0 628.0,214.5 570.0,230.8" fill="#b9c2c5" stroke="#1b1b1b" stroke-width="0.8" />
<polygon points="558.0,222.4 570.0,228.0 570.0,230.8 558.0,225.2" fill="#c3cbce" stroke="#1b1b1b" stroke-width="0.9" />
<polygon points="558.0,225.2 570.0,230.8 570.0,248.0 565.0,249.5 558.0,246.0" fill="#98a3a7" stroke="#1b1b1b" stroke-width="1.0" />
<polygon points="446.8,173.0 524.8,195.6 524.8,206.0 446.8,183.5" fill="#b2bbbf" stroke="#1b1b1b" stroke-width="1.0" />
<polygon points="524.8,195.6 569.0,182.2 569.0,192.0 524.8,206.0" fill="#8f9a9e" stroke="#1b1b1b" stroke-width="1.0" />
<polygon points="534.0,203.0 572.0,192.0 598.0,207.0 562.0,209.5" fill="#3d3e40" stroke="#1b1b1b" stroke-width="0.9" />
<ellipse cx="573.7" cy="205.7" rx="1.3" ry="1.0" transform="rotate(0 573.7 205.7)" fill="#77787a" stroke="#1b1b1b" stroke-width="0.7"/>
<ellipse cx="546.7" cy="201.4" rx="1.3" ry="1.0" transform="rotate(0 546.7 201.4)" fill="#77787a" stroke="#1b1b1b" stroke-width="0.7"/>
<ellipse cx="570.1" cy="204.7" rx="1.3" ry="1.0" transform="rotate(0 570.1 204.7)" fill="#77787a" stroke="#1b1b1b" stroke-width="0.7"/>
<ellipse cx="565.1" cy="202.5" rx="1.3" ry="1.0" transform="rotate(0 565.1 202.5)" fill="#77787a" stroke="#1b1b1b" stroke-width="0.7"/>
<ellipse cx="563.2" cy="204.0" rx="1.3" ry="1.0" transform="rotate(0 563.2 204.0)" fill="#77787a" stroke="#1b1b1b" stroke-width="0.7"/>
<ellipse cx="562.4" cy="201.8" rx="1.3" ry="1.0" transform="rotate(0 562.4 201.8)" fill="#77787a" stroke="#1b1b1b" stroke-width="0.7"/>
<ellipse cx="557.9" cy="203.0" rx="1.3" ry="1.0" transform="rotate(0 557.9 203.0)" fill="#77787a" stroke="#1b1b1b" stroke-width="0.7"/>
<polygon points="424.6,162.0 455.0,152.0 600.0,150.0 569.0,176.0 524.8,189.2" fill="#d3dadc" stroke="#1b1b1b" stroke-width="1.0" />
<polygon points="424.6,162.0 524.8,189.2 524.8,195.6 424.6,168.0" fill="#b5bec1" stroke="#1b1b1b" stroke-width="1.0" />
<polygon points="524.8,189.2 569.0,176.0 569.0,182.2 524.8,195.6" fill="#98a3a7" stroke="#1b1b1b" stroke-width="1.0" />
<ellipse cx="434.6" cy="160.3" rx="1.5" ry="1.2" transform="rotate(0 434.6 160.3)" fill="#8b979b" stroke="#1b1b1b" stroke-width="0.8"/>
<ellipse cx="481.0" cy="175.2" rx="1.5" ry="1.2" transform="rotate(0 481.0 175.2)" fill="#8b979b" stroke="#1b1b1b" stroke-width="0.8"/>
<ellipse cx="524.5" cy="186.0" rx="1.5" ry="1.2" transform="rotate(0 524.5 186.0)" fill="#8b979b" stroke="#1b1b1b" stroke-width="0.8"/>
<polygon points="445.6,129.8 505.6,112.8 527.2,108.0 598.0,133.2 534.4,158.4" fill="#d8dee0" stroke="#1b1b1b" stroke-width="1.0" />
<polygon points="445.6,129.8 534.4,158.4 534.4,183.0 445.6,156.0" fill="url(#gMagF)" stroke="#1b1b1b" stroke-width="1.0" />
<polygon points="534.4,158.4 598.0,133.2 598.0,158.0 534.4,183.0" fill="#9aa5a9" stroke="#1b1b1b" stroke-width="1.0" />
<polygon points="410.0,103.0 446.0,118.5 446.0,157.0 434.5,160.5 414.0,150.0" fill="url(#gXrear)" stroke="#1b1b1b" stroke-width="0.9" />
<polyline points="419.5,147.5 435.5,159.5" fill="none" stroke="#1b1b1b" stroke-width="1.6" />
<path d="M402,118 C403,108 410,100 420,97.5 C432,94.5 443,94 449,95.2 L622,159.5 C632,163 637,172 636,184 C634.5,193 632,197 629,197.5 L594,208.5 L572,172.5 L413,106.5 Z" fill="url(#gXbelt)" stroke="#1b1b1b" stroke-width="1.2" />
<polygon points="412.5,105.2 572.0,172.5 571.4,174.8 412.0,107.4" fill="#262729" stroke="#1b1b1b" stroke-width="0.8" />
<path d="M584,170 L622,159.5 C632,163 637,172 636,184 C634.5,193 632,197 629,197.5 L594,208.5 Z" fill="url(#gXfront)" stroke="#1b1b1b" stroke-width="1.1" />
<path d="M618,160.5 C628,164 633,173 632,185 C630.5,193 628,197.5 625.5,198.5" fill="none" stroke="#1b1b1b" stroke-width="1.6" />
<ellipse cx="601.3" cy="190.8" rx="1.6" ry="1.2" transform="rotate(114.29998927284971 601.3 190.8)" fill="#77787a" stroke="#1b1b1b" stroke-width="0.8"/>
<ellipse cx="611.3" cy="173.8" rx="1.6" ry="1.2" transform="rotate(142.67400447604436 611.3 173.8)" fill="#77787a" stroke="#1b1b1b" stroke-width="0.8"/>
<ellipse cx="621.9" cy="184.4" rx="1.6" ry="1.2" transform="rotate(90.9151476246021 621.9 184.4)" fill="#77787a" stroke="#1b1b1b" stroke-width="0.8"/>
<ellipse cx="607.9" cy="187.1" rx="1.6" ry="1.2" transform="rotate(12.467657372996037 607.9 187.1)" fill="#77787a" stroke="#1b1b1b" stroke-width="0.8"/>
<ellipse cx="621.4" cy="174.4" rx="1.6" ry="1.2" transform="rotate(41.885091251919654 621.4 174.4)" fill="#77787a" stroke="#1b1b1b" stroke-width="0.8"/>
<ellipse cx="597.4" cy="201.9" rx="1.6" ry="1.2" transform="rotate(132.96379535441295 597.4 201.9)" fill="#77787a" stroke="#1b1b1b" stroke-width="0.8"/>
<ellipse cx="624.0" cy="188.2" rx="1.6" ry="1.2" transform="rotate(6.132610680295816 624.0 188.2)" fill="#77787a" stroke="#1b1b1b" stroke-width="0.8"/>
<ellipse cx="606.5" cy="183.9" rx="1.6" ry="1.2" transform="rotate(20.845765894553907 606.5 183.9)" fill="#77787a" stroke="#1b1b1b" stroke-width="0.8"/>
<ellipse cx="626.5" cy="179.3" rx="1.6" ry="1.2" transform="rotate(27.866350214063512 626.5 179.3)" fill="#77787a" stroke="#1b1b1b" stroke-width="0.8"/>
<ellipse cx="622.2" cy="170.5" rx="1.6" ry="1.2" transform="rotate(167.0298953616538 622.2 170.5)" fill="#77787a" stroke="#1b1b1b" stroke-width="0.8"/>
<ellipse cx="610.5" cy="185.9" rx="1.6" ry="1.2" transform="rotate(61.725856305970126 610.5 185.9)" fill="#77787a" stroke="#1b1b1b" stroke-width="0.8"/>
<ellipse cx="611.5" cy="172.7" rx="1.6" ry="1.2" transform="rotate(6.685119603496497 611.5 172.7)" fill="#77787a" stroke="#1b1b1b" stroke-width="0.8"/>
<ellipse cx="623.7" cy="174.5" rx="1.6" ry="1.2" transform="rotate(140.4466829860801 623.7 174.5)" fill="#77787a" stroke="#1b1b1b" stroke-width="0.8"/>
<ellipse cx="602.7" cy="200.9" rx="1.6" ry="1.2" transform="rotate(160.91384946137077 602.7 200.9)" fill="#77787a" stroke="#1b1b1b" stroke-width="0.8"/>
<ellipse cx="620.2" cy="193.5" rx="1.6" ry="1.2" transform="rotate(104.53782765557948 620.2 193.5)" fill="#77787a" stroke="#1b1b1b" stroke-width="0.8"/>
<ellipse cx="619.4" cy="170.4" rx="1.6" ry="1.2" transform="rotate(85.73857009865094 619.4 170.4)" fill="#77787a" stroke="#1b1b1b" stroke-width="0.8"/>
<ellipse cx="622.5" cy="173.2" rx="1.6" ry="1.2" transform="rotate(166.1701402538061 622.5 173.2)" fill="#77787a" stroke="#1b1b1b" stroke-width="0.8"/>
<ellipse cx="624.4" cy="180.7" rx="1.6" ry="1.2" transform="rotate(65.7396983490251 624.4 180.7)" fill="#77787a" stroke="#1b1b1b" stroke-width="0.8"/>
<ellipse cx="610.4" cy="179.9" rx="1.6" ry="1.2" transform="rotate(179.07169079185607 610.4 179.9)" fill="#77787a" stroke="#1b1b1b" stroke-width="0.8"/>
<ellipse cx="608.4" cy="167.0" rx="1.6" ry="1.2" transform="rotate(16.78725576855146 608.4 167.0)" fill="#77787a" stroke="#1b1b1b" stroke-width="0.8"/>
<ellipse cx="611.9" cy="183.7" rx="1.6" ry="1.2" transform="rotate(99.07756170547044 611.9 183.7)" fill="#77787a" stroke="#1b1b1b" stroke-width="0.8"/>
<ellipse cx="619.9" cy="174.0" rx="1.6" ry="1.2" transform="rotate(109.60225043710624 619.9 174.0)" fill="#77787a" stroke="#1b1b1b" stroke-width="0.8"/>
<ellipse cx="613.8" cy="188.4" rx="1.6" ry="1.2" transform="rotate(32.521924678547116 613.8 188.4)" fill="#77787a" stroke="#1b1b1b" stroke-width="0.8"/>
<ellipse cx="601.4" cy="178.5" rx="1.6" ry="1.2" transform="rotate(166.873249410302 601.4 178.5)" fill="#77787a" stroke="#1b1b1b" stroke-width="0.8"/>
<ellipse cx="416.5" cy="126.0" rx="15.2" ry="23.5" transform="rotate(-12 416.5 126.0)" fill="#2c2d2f" stroke="#1b1b1b" stroke-width="1.1"/>
<ellipse cx="416.3" cy="126.0" rx="13.4" ry="21.6" transform="rotate(-12 416.3 126.0)" fill="#9aa4a8" stroke="#1b1b1b" stroke-width="0.9"/>
<ellipse cx="417.3" cy="126.1" rx="11.2" ry="18.8" transform="rotate(-12 417.3 126.1)" fill="url(#gCapR)" stroke="#1b1b1b" stroke-width="0.9"/>
<ellipse cx="416.6" cy="126.0" rx="6.0" ry="6.8" transform="rotate(0 416.6 126.0)" fill="#8f9a9e" stroke="#1b1b1b" stroke-width="0.9"/>
<ellipse cx="417.0" cy="126.0" rx="3.8" ry="4.4" transform="rotate(0 417.0 126.0)" fill="#d0d7d9" stroke="#1b1b1b" stroke-width="0.8"/>
<ellipse cx="417.2" cy="126.0" rx="1.7" ry="2.1" transform="rotate(0 417.2 126.0)" fill="#8f9a9e" stroke="#1b1b1b" stroke-width="0.7"/>
<ellipse cx="583.0" cy="189.0" rx="15.6" ry="20.4" transform="rotate(-12 583.0 189.0)" fill="#2c2d2f" stroke="#1b1b1b" stroke-width="1.1"/>
<ellipse cx="582.8" cy="189.0" rx="13.8" ry="18.6" transform="rotate(-12 582.8 189.0)" fill="#9aa4a8" stroke="#1b1b1b" stroke-width="0.9"/>
<ellipse cx="583.8" cy="189.1" rx="11.5" ry="16.0" transform="rotate(-12 583.8 189.1)" fill="url(#gCapF)" stroke="#1b1b1b" stroke-width="0.9"/>
<ellipse cx="582.4" cy="188.6" rx="6.0" ry="6.8" transform="rotate(0 582.4 188.6)" fill="#8f9a9e" stroke="#1b1b1b" stroke-width="0.9"/>
<ellipse cx="582.8" cy="188.6" rx="3.8" ry="4.4" transform="rotate(0 582.8 188.6)" fill="#d0d7d9" stroke="#1b1b1b" stroke-width="0.8"/>
<ellipse cx="583.0" cy="188.6" rx="1.7" ry="2.1" transform="rotate(0 583.0 188.6)" fill="#8f9a9e" stroke="#1b1b1b" stroke-width="0.7"/>
<path d="M632,166 C636,160 646,160 650,165 L650,187 L641,190 L636,184 C637,176 636,170 632,166 Z" fill="#c5cdd0" stroke="#1b1b1b" stroke-width="1.0" />
<polygon points="364.0,158.0 392.0,150.0 398.0,152.0 370.0,161.0" fill="#9aa5a9" stroke="#1b1b1b" stroke-width="0.9" />
<ellipse cx="392.5" cy="141.5" rx="4.6" ry="13.5" transform="rotate(-10 392.5 141.5)" fill="#b5bec1" stroke="#1b1b1b" stroke-width="1.0"/>
<polygon points="396.0,136.0 404.0,133.5 404.0,137.5 396.0,140.0" fill="#aab3b7" stroke="#1b1b1b" stroke-width="0.8" />
<path d="M364,138.5 L388,131 C392,135 393,150 389.5,156.5 L366,163 Z" fill="url(#gMot)" stroke="#1b1b1b" stroke-width="1.0" />
<polyline points="372.0,139.5 389.5,134.4" fill="none" stroke="#27496f" stroke-width="0.8" />
<polyline points="372.0,143.7 389.5,138.6" fill="none" stroke="#27496f" stroke-width="0.8" />
<polyline points="372.0,147.9 389.5,142.8" fill="none" stroke="#27496f" stroke-width="0.8" />
<polyline points="372.0,152.1 389.5,147.0" fill="none" stroke="#27496f" stroke-width="0.8" />
<polyline points="372.0,156.3 389.5,151.2" fill="none" stroke="#27496f" stroke-width="0.8" />
<polygon points="366.0,128.5 380.0,124.5 386.0,127.0 372.0,131.2" fill="#7aa6d4" stroke="#1b1b1b" stroke-width="0.9" />
<polygon points="366.0,128.5 372.0,131.2 372.0,137.5 366.0,135.0" fill="#4a79b0" stroke="#1b1b1b" stroke-width="0.9" />
<polygon points="372.0,131.2 386.0,127.0 386.0,133.0 372.0,137.5" fill="#3c6a9f" stroke="#1b1b1b" stroke-width="0.9" />
<ellipse cx="361.3" cy="148.0" rx="9.6" ry="10.2" transform="rotate(-10 361.3 148.0)" fill="url(#gFan)" stroke="#1b1b1b" stroke-width="1.0"/>
</g>
<g id="labels">
<path d="M368.0,45.0 L384.0,45.0 L421.0,99.0" fill="none" stroke="#111" stroke-width="1.3"/>
<polygon points="421.0,99.0 413.3,93.4 418.6,89.8" fill="#111"/>
<path d="M310.0,105.5 L324.0,105.5 L358.0,135.0" fill="none" stroke="#111" stroke-width="1.3"/>
<polygon points="358.0,135.0 349.1,131.5 353.3,126.7" fill="#111"/>
<path d="M293.0,163.0 L306.0,163.0 L357.0,210.0" fill="none" stroke="#111" stroke-width="1.3"/>
<polygon points="357.0,210.0 348.2,206.3 352.6,201.5" fill="#111"/>
<path d="M263.0,211.5 L276.0,211.5 L320.0,301.0" fill="none" stroke="#111" stroke-width="1.3"/>
<polygon points="320.0,301.0 313.2,294.3 318.9,291.5" fill="#111"/>
<path d="M238.0,253.5 L245.0,253.5 L284.0,334.5" fill="none" stroke="#111" stroke-width="1.3"/>
<polygon points="284.0,334.5 277.2,327.8 283.0,325.0" fill="#111"/>
<path d="M120.0,489.0 L133.0,489.0 L151.0,452.0" fill="none" stroke="#111" stroke-width="1.3"/>
<polygon points="151.0,452.0 149.9,461.5 144.2,458.7" fill="#111"/>
<path d="M275.0,489.0 L265.0,489.0 L194.0,422.0" fill="none" stroke="#111" stroke-width="1.3"/>
<polygon points="194.0,422.0 202.7,425.8 198.3,430.5" fill="#111"/>
<path d="M410.0,432.0 L290.0,378.0" fill="none" stroke="#111" stroke-width="1.3"/>
<polygon points="290.0,378.0 299.5,378.8 296.9,384.6" fill="#111"/>
<path d="M410.0,432.0 L404.0,363.0" fill="none" stroke="#111" stroke-width="1.3"/>
<polygon points="404.0,363.0 408.0,371.7 401.6,372.2" fill="#111"/>
<path d="M509.0,470.0 L509.0,459.0 L550.0,389.5" fill="none" stroke="#111" stroke-width="1.3"/>
<polygon points="550.0,389.5 548.2,398.9 542.7,395.6" fill="#111"/>
<path d="M609.0,464.0 L595.0,464.0 L642.5,319.5" fill="none" stroke="#111" stroke-width="1.3"/>
<polygon points="642.5,319.5 642.7,329.0 636.6,327.1" fill="#111"/>
<path d="M826.0,348.0 L812.5,348.0 L785.0,268.0" fill="none" stroke="#111" stroke-width="1.3"/>
<polygon points="785.0,268.0 791.0,275.5 784.9,277.6" fill="#111"/>
<path d="M826.0,391.0 L815.0,391.0 L720.0,352.0" fill="none" stroke="#111" stroke-width="1.3"/>
<polygon points="720.0,352.0 729.5,352.5 727.1,358.4" fill="#111"/>
<path d="M790.0,451.0 L780.0,451.0 L750.0,406.0" fill="none" stroke="#111" stroke-width="1.3"/>
<polygon points="750.0,406.0 757.7,411.7 752.3,415.3" fill="#111"/>
<path d="M897.5,288.0 L884.0,288.0 L884.0,240.0" fill="none" stroke="#111" stroke-width="1.3"/>
<polygon points="884.0,240.0 887.2,249.0 880.8,249.0" fill="#111"/>
<path d="M575.0,67.5 L565.0,67.5 L560.0,116.0" fill="none" stroke="#111" stroke-width="1.3"/>
<polygon points="560.0,116.0 557.7,106.7 564.1,107.4" fill="#111"/>
<path d="M665.0,116.0 L653.5,116.0 L619.0,156.0" fill="none" stroke="#111" stroke-width="1.3"/>
<polygon points="619.0,156.0 622.5,147.1 627.3,151.3" fill="#111"/>
<path d="M830.0,101.5 L844.0,101.5 L803.5,172.5" fill="none" stroke="#111" stroke-width="1.3"/>
<polygon points="803.5,172.5 805.2,163.1 810.7,166.3" fill="#111"/>
<path d="M882.5,126.5 L871.0,126.5 L844.0,181.0" fill="none" stroke="#111" stroke-width="1.3"/>
<polygon points="844.0,181.0 845.1,171.5 850.9,174.4" fill="#111"/>
<text x="202" y="51.1" textLength="164" lengthAdjust="spacingAndGlyphs">OVERHEAD CROSS-BELT</text>
<text x="210" y="68.1" textLength="156" lengthAdjust="spacingAndGlyphs">MAGNETIC SEPARATOR</text>
<text x="181" y="112.1" textLength="126" lengthAdjust="spacingAndGlyphs">SEPARATOR DRIVE</text>
<text x="139" y="169.1" textLength="151" lengthAdjust="spacingAndGlyphs">MAIN CONVEYOR BELT</text>
<text x="153" y="217.6" textLength="107" lengthAdjust="spacingAndGlyphs">IDLER ROLLERS</text>
<text x="128" y="259.6" textLength="107" lengthAdjust="spacingAndGlyphs">FOUNDRY SAND</text>
<text x="119" y="276.6" textLength="116" lengthAdjust="spacingAndGlyphs">FLOW DIRECTION</text>
<text x="73" y="315.6" textLength="107" lengthAdjust="spacingAndGlyphs">FOUNDRY SAND</text>
<text x="65" y="332.6" textLength="117" lengthAdjust="spacingAndGlyphs">FLOW DIRECTION</text>
<text x="31" y="494.6" textLength="86" lengthAdjust="spacingAndGlyphs">TAIL PULLEY</text>
<text x="280" y="494.6" textLength="97" lengthAdjust="spacingAndGlyphs">DRIVE PULLEY</text>
<text x="280" y="511.6" textLength="85" lengthAdjust="spacingAndGlyphs">(CONVEYOR)</text>
<text x="357" y="451.6" textLength="107" lengthAdjust="spacingAndGlyphs">IDLER ROLLERS</text>
<text x="474" y="485.6" textLength="66" lengthAdjust="spacingAndGlyphs">SUPPORT</text>
<text x="474" y="502.6" textLength="83" lengthAdjust="spacingAndGlyphs">STRUCTURE</text>
<text x="613" y="469.6" textLength="67" lengthAdjust="spacingAndGlyphs">REMOVED</text>
<text x="613" y="486.6" textLength="64" lengthAdjust="spacingAndGlyphs">FERROUS</text>
<text x="613" y="503.6" textLength="74" lengthAdjust="spacingAndGlyphs">PARTICLES</text>
<text x="830" y="353.6" textLength="62.5" lengthAdjust="spacingAndGlyphs">CLEANED</text>
<text x="830" y="370.6" textLength="38.5" lengthAdjust="spacingAndGlyphs">SAND</text>
<text x="830" y="396.6" textLength="136" lengthAdjust="spacingAndGlyphs">REMOVED FERROUS</text>
<text x="830" y="413.6" textLength="74" lengthAdjust="spacingAndGlyphs">PARTICLES</text>
<text x="794" y="457.6" textLength="161" lengthAdjust="spacingAndGlyphs">METAL COLLECTION BIN</text>
<text x="901" y="295.6" textLength="38" lengthAdjust="spacingAndGlyphs">SAND</text>
<text x="901" y="312.6" textLength="79" lengthAdjust="spacingAndGlyphs">DISCHARGE</text>
<text x="901" y="329.6" textLength="42" lengthAdjust="spacingAndGlyphs">POINT</text>
<text x="577.5" y="73.6" textLength="58.5" lengthAdjust="spacingAndGlyphs">MAGNET</text>
<text x="668.5" y="122.6" textLength="64.0" lengthAdjust="spacingAndGlyphs">FERROUS</text>
<text x="668.5" y="139.6" textLength="74.0" lengthAdjust="spacingAndGlyphs">PARTICLES</text>
<text x="751.5" y="107.6" textLength="76.0" lengthAdjust="spacingAndGlyphs">SAND FEED</text>
<text x="775" y="124.6" textLength="42" lengthAdjust="spacingAndGlyphs">POINT</text>
<text x="886" y="132.6" textLength="38.5" lengthAdjust="spacingAndGlyphs">SAND</text>
<text x="886" y="149.6" textLength="79" lengthAdjust="spacingAndGlyphs">DISCHARGE</text>
<text x="886" y="166.6" textLength="41.5" lengthAdjust="spacingAndGlyphs">POINT</text>
</g>
</svg>
</body></html>
